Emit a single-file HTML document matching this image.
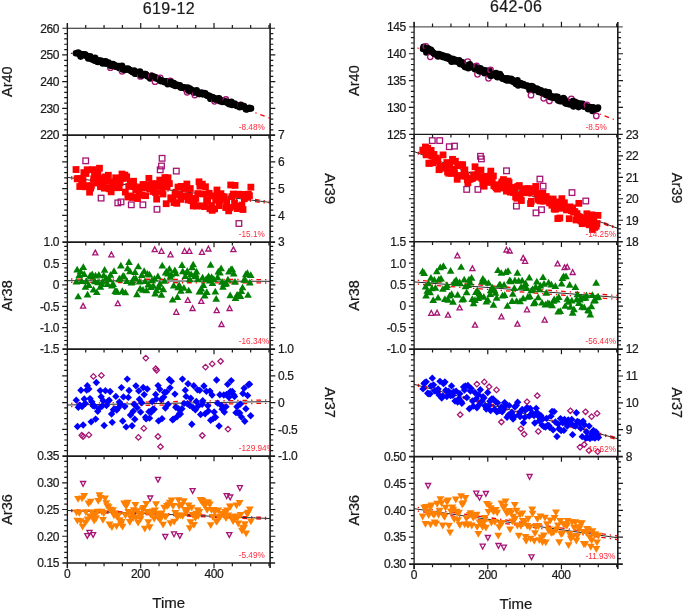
<!DOCTYPE html>
<html><head><meta charset="utf-8"><title>chart</title>
<style>html,body{margin:0;padding:0;background:#fff;}svg{display:block;will-change:transform;}text{stroke:#1a1a1a;stroke-width:0.22px}.p{stroke:none}.o{fill:none;stroke:#a61474;stroke-width:1.3}</style></head>
<body>
<svg width="685" height="611" viewBox="0 0 685 611" font-family="Liberation Sans, sans-serif">
<rect width="685" height="611" fill="#fff"/>
<clipPath id="clip0"><rect x="67.4" y="28.2" width="202.7" height="534.8"/></clipPath>
<text x="168.95" y="13.9" font-size="16" letter-spacing="0.45" text-anchor="middle" fill="#1a1a1a">619-12</text>
<path d="M70.9 53.2Q170.5 81 270.1 118.2" stroke="#ff0000" stroke-width="1.3" stroke-dasharray="1.3 3.95 4.65 3.95" fill="none"/>
<g fill="#000"><circle cx="75.89" cy="53.32" r="3.3"/><circle cx="77.42" cy="53.2" r="3.3"/><circle cx="78.18" cy="52.54" r="3.3"/><circle cx="79.4" cy="54.21" r="3.3"/><circle cx="80.61" cy="56.61" r="3.3"/><circle cx="81.3" cy="54.01" r="3.3"/><circle cx="82.28" cy="54.98" r="3.3"/><circle cx="82.98" cy="55.13" r="3.3"/><circle cx="84.14" cy="54.33" r="3.3"/><circle cx="85.33" cy="54.64" r="3.3"/><circle cx="86.47" cy="55.92" r="3.3"/><circle cx="87.58" cy="56.61" r="3.3"/><circle cx="88.28" cy="58.5" r="3.3"/><circle cx="89.07" cy="57.59" r="3.3"/><circle cx="90.24" cy="56.25" r="3.3"/><circle cx="91.71" cy="59.17" r="3.3"/><circle cx="92.22" cy="58.73" r="3.3"/><circle cx="93.41" cy="59.71" r="3.3"/><circle cx="94.77" cy="60.69" r="3.3"/><circle cx="95.12" cy="57.73" r="3.3"/><circle cx="96.56" cy="61.19" r="3.3"/><circle cx="97.83" cy="62.05" r="3.3"/><circle cx="98.32" cy="60.26" r="3.3"/><circle cx="99.56" cy="61.55" r="3.3"/><circle cx="100.84" cy="60.48" r="3.3"/><circle cx="101.29" cy="61.44" r="3.3"/><circle cx="102.59" cy="63.51" r="3.3"/><circle cx="103.77" cy="63.01" r="3.3"/><circle cx="104.72" cy="61.55" r="3.3"/><circle cx="105.59" cy="61.3" r="3.3"/><circle cx="106.41" cy="63.66" r="3.3"/><circle cx="107.64" cy="63.7" r="3.3"/><circle cx="108.56" cy="62.62" r="3.3"/><circle cx="109.66" cy="64.55" r="3.3"/><circle class="o" cx="110.4" cy="67.7" r="2.75"/><circle cx="110.59" cy="65.78" r="3.3"/><circle cx="111.95" cy="65.67" r="3.3"/><circle cx="112.91" cy="63.94" r="3.3"/><circle cx="113.59" cy="65.47" r="3.3"/><circle cx="114.8" cy="65.1" r="3.3"/><circle cx="115.59" cy="66.63" r="3.3"/><circle cx="116.74" cy="66.42" r="3.3"/><circle cx="117.68" cy="67.32" r="3.3"/><circle cx="118.92" cy="66.11" r="3.3"/><circle cx="119.72" cy="68.31" r="3.3"/><circle cx="120.8" cy="67.09" r="3.3"/><circle cx="122.01" cy="65.82" r="3.3"/><circle class="o" cx="122.1" cy="71.3" r="2.75"/><circle cx="122.8" cy="69.43" r="3.3"/><circle cx="124.17" cy="68.77" r="3.3"/><circle cx="124.65" cy="69.88" r="3.3"/><circle cx="126.08" cy="68.84" r="3.3"/><circle cx="126.86" cy="69.35" r="3.3"/><circle cx="127.88" cy="68.61" r="3.3"/><circle cx="129.04" cy="69.66" r="3.3"/><circle cx="129.98" cy="70.1" r="3.3"/><circle cx="130.91" cy="71.03" r="3.3"/><circle cx="131.62" cy="71.03" r="3.3"/><circle cx="132.7" cy="72.3" r="3.3"/><circle cx="134.17" cy="70.46" r="3.3"/><circle cx="135.05" cy="73.76" r="3.3"/><circle cx="136.19" cy="73.41" r="3.3"/><circle cx="137.39" cy="72.11" r="3.3"/><circle cx="138.21" cy="73.85" r="3.3"/><circle cx="138.76" cy="72.55" r="3.3"/><circle cx="139.96" cy="71.47" r="3.3"/><circle class="o" cx="140.5" cy="76.4" r="2.75"/><circle cx="141.19" cy="75.4" r="3.3"/><circle cx="141.94" cy="73.9" r="3.3"/><circle cx="143.49" cy="75.1" r="3.3"/><circle cx="144.49" cy="74.14" r="3.3"/><circle cx="145.43" cy="73.97" r="3.3"/><circle cx="146.17" cy="74.72" r="3.3"/><circle cx="147.46" cy="76.28" r="3.3"/><circle cx="147.95" cy="75.99" r="3.3"/><circle cx="149.09" cy="77.09" r="3.3"/><circle cx="150.22" cy="78.54" r="3.3"/><circle cx="151.44" cy="75.92" r="3.3"/><circle class="o" cx="151.5" cy="76" r="2.75"/><circle cx="152.27" cy="76.07" r="3.3"/><circle cx="153.02" cy="77.64" r="3.3"/><circle cx="154.19" cy="77.97" r="3.3"/><circle class="o" cx="155" cy="81.7" r="2.75"/><circle cx="155.19" cy="77" r="3.3"/><circle cx="156.19" cy="78.21" r="3.3"/><circle cx="157.1" cy="78.38" r="3.3"/><circle cx="158.3" cy="78.98" r="3.3"/><circle cx="159.34" cy="79.57" r="3.3"/><circle class="o" cx="160.2" cy="77.8" r="2.75"/><circle cx="160.59" cy="81.12" r="3.3"/><circle cx="161.62" cy="80.48" r="3.3"/><circle cx="162.44" cy="80.74" r="3.3"/><circle cx="163.41" cy="81.49" r="3.3"/><circle cx="164.65" cy="82.3" r="3.3"/><circle cx="165.75" cy="81.33" r="3.3"/><circle cx="166.61" cy="81.21" r="3.3"/><circle cx="167.71" cy="84.17" r="3.3"/><circle cx="168.83" cy="82.07" r="3.3"/><circle cx="169.18" cy="83.79" r="3.3"/><circle class="o" cx="170.3" cy="80.8" r="2.75"/><circle cx="170.81" cy="81.84" r="3.3"/><circle cx="171.39" cy="82.71" r="3.3"/><circle cx="172.55" cy="84.86" r="3.3"/><circle cx="173.8" cy="83.1" r="3.3"/><circle cx="174.75" cy="84.69" r="3.3"/><circle cx="175.35" cy="85.92" r="3.3"/><circle cx="176.74" cy="84.99" r="3.3"/><circle cx="177.32" cy="84.84" r="3.3"/><circle cx="178.55" cy="86.09" r="3.3"/><circle cx="179.89" cy="85.18" r="3.3"/><circle cx="180.63" cy="87.43" r="3.3"/><circle cx="181.77" cy="87.67" r="3.3"/><circle cx="182.88" cy="87.31" r="3.3"/><circle cx="183.96" cy="87.6" r="3.3"/><circle cx="184.93" cy="87.49" r="3.3"/><circle cx="185.39" cy="88.78" r="3.3"/><circle cx="186.71" cy="89.02" r="3.3"/><circle class="o" cx="187.1" cy="92.3" r="2.75"/><circle cx="187.75" cy="87.47" r="3.3"/><circle cx="188.47" cy="90.76" r="3.3"/><circle cx="189.84" cy="88.61" r="3.3"/><circle cx="190.9" cy="90.22" r="3.3"/><circle cx="192.08" cy="89.93" r="3.3"/><circle cx="193.18" cy="91.91" r="3.3"/><circle cx="193.59" cy="92.28" r="3.3"/><circle cx="194.68" cy="92.46" r="3.3"/><circle class="o" cx="194.8" cy="95.1" r="2.75"/><circle cx="196.01" cy="91.09" r="3.3"/><circle cx="196.64" cy="90.39" r="3.3"/><circle cx="197.72" cy="92.49" r="3.3"/><circle cx="198.99" cy="94.06" r="3.3"/><circle cx="199.71" cy="94.03" r="3.3"/><circle cx="201.17" cy="92.48" r="3.3"/><circle cx="202.24" cy="92.93" r="3.3"/><circle cx="202.65" cy="94.34" r="3.3"/><circle cx="204.03" cy="93" r="3.3"/><circle cx="205.24" cy="93.38" r="3.3"/><circle cx="206.39" cy="94.99" r="3.3"/><circle cx="206.89" cy="95.57" r="3.3"/><circle cx="207.83" cy="95.67" r="3.3"/><circle cx="209.36" cy="95.88" r="3.3"/><circle cx="210.4" cy="98.71" r="3.3"/><circle cx="210.89" cy="98.78" r="3.3"/><circle cx="212.08" cy="97" r="3.3"/><circle cx="213.3" cy="97.66" r="3.3"/><circle cx="214.41" cy="98.37" r="3.3"/><circle class="o" cx="214.5" cy="101.3" r="2.75"/><circle cx="214.93" cy="99.41" r="3.3"/><circle cx="216.3" cy="99.45" r="3.3"/><circle cx="217.42" cy="99.16" r="3.3"/><circle cx="218.25" cy="98.58" r="3.3"/><circle cx="218.98" cy="98.25" r="3.3"/><circle cx="219.9" cy="101.3" r="3.3"/><circle cx="221.1" cy="100.46" r="3.3"/><circle cx="222.5" cy="101.9" r="3.3"/><circle cx="222.95" cy="100.44" r="3.3"/><circle cx="223.94" cy="100.96" r="3.3"/><circle cx="225.21" cy="101.91" r="3.3"/><circle class="o" cx="225.9" cy="99.5" r="2.75"/><circle cx="226.01" cy="101.9" r="3.3"/><circle cx="227.09" cy="101.76" r="3.3"/><circle cx="228.01" cy="103.32" r="3.3"/><circle cx="229.39" cy="104.29" r="3.3"/><circle cx="230.53" cy="103.35" r="3.3"/><circle cx="231.35" cy="101.75" r="3.3"/><circle cx="232.15" cy="104.97" r="3.3"/><circle cx="233.3" cy="104.75" r="3.3"/><circle cx="234.51" cy="103.62" r="3.3"/><circle cx="235.78" cy="104.83" r="3.3"/><circle cx="236.83" cy="106.04" r="3.3"/><circle cx="237.3" cy="105.01" r="3.3"/><circle cx="238.14" cy="106.07" r="3.3"/><circle cx="239.76" cy="107.15" r="3.3"/><circle class="o" cx="240.8" cy="104.9" r="2.75"/><circle cx="240.84" cy="105.02" r="3.3"/><circle cx="241.51" cy="106.44" r="3.3"/><circle cx="242.76" cy="106.6" r="3.3"/><circle cx="243.84" cy="106.01" r="3.3"/><circle cx="244.67" cy="107.24" r="3.3"/><circle cx="245.87" cy="108.9" r="3.3"/><circle cx="246.27" cy="109.52" r="3.3"/><circle cx="247.46" cy="109.11" r="3.3"/><circle cx="248.48" cy="108.72" r="3.3"/><circle cx="249.38" cy="107.69" r="3.3"/><circle cx="250.97" cy="108.38" r="3.3"/></g>
<text x="238.8" y="130.36" font-size="8.2" class="p" fill="#ff2a3a" clip-path="url(#clip0)">-8.48%</text>
<path d="M71.1 176.76L269.6 201.3" stroke="#ff0000" stroke-width="1.3" stroke-dasharray="1.3 3.95 4.65 3.95" fill="none"/>
<path d="M71.1 178.96L269.6 203.5" stroke="#ff0000" stroke-width="1.3" stroke-dasharray="1.3 3.95 4.65 3.95" fill="none"/>
<path d="M67.4 177.4L270.1 202.4" stroke="#2a2a2a" stroke-width="1" fill="none"/>
<g fill="#f00"><rect x="72.62" y="166.15" width="6.8" height="6.8"/><rect x="73.78" y="175.39" width="6.8" height="6.8"/><rect x="74.77" y="175.27" width="6.8" height="6.8"/><rect x="76.35" y="183.14" width="6.8" height="6.8"/><rect x="77.33" y="175.14" width="6.8" height="6.8"/><rect x="78.22" y="179.27" width="6.8" height="6.8"/><rect x="79.53" y="176.88" width="6.8" height="6.8"/><rect x="80.49" y="169.2" width="6.8" height="6.8"/><rect x="81.6" y="183.4" width="6.8" height="6.8"/><rect class="o" x="82.9" y="158" width="5.6" height="5.6"/><rect x="82.58" y="170.11" width="6.8" height="6.8"/><rect x="83.76" y="166.37" width="6.8" height="6.8"/><rect x="85.22" y="182.29" width="6.8" height="6.8"/><rect x="86.17" y="188.8" width="6.8" height="6.8"/><rect x="87.3" y="184.71" width="6.8" height="6.8"/><rect x="87.88" y="182.38" width="6.8" height="6.8"/><rect x="89.26" y="166.24" width="6.8" height="6.8"/><rect x="90.26" y="175.42" width="6.8" height="6.8"/><rect x="91.15" y="170.9" width="6.8" height="6.8"/><rect x="92.47" y="179.67" width="6.8" height="6.8"/><rect x="93.33" y="175.89" width="6.8" height="6.8"/><rect x="94.55" y="169.7" width="6.8" height="6.8"/><rect x="96.06" y="164.84" width="6.8" height="6.8"/><rect x="97.07" y="183.33" width="6.8" height="6.8"/><rect class="o" x="98.3" y="195.3" width="5.6" height="5.6"/><rect x="98.18" y="174.67" width="6.8" height="6.8"/><rect x="98.82" y="179" width="6.8" height="6.8"/><rect x="99.98" y="180.66" width="6.8" height="6.8"/><rect x="100.98" y="184.76" width="6.8" height="6.8"/><rect x="102.13" y="173.46" width="6.8" height="6.8"/><rect x="103.23" y="177.95" width="6.8" height="6.8"/><rect x="104.96" y="171.86" width="6.8" height="6.8"/><rect x="106.01" y="185.41" width="6.8" height="6.8"/><rect x="106.6" y="184.45" width="6.8" height="6.8"/><rect x="107.73" y="188.45" width="6.8" height="6.8"/><rect x="109.35" y="178.46" width="6.8" height="6.8"/><rect x="110.16" y="178.74" width="6.8" height="6.8"/><rect x="111.11" y="182.98" width="6.8" height="6.8"/><rect x="112.28" y="174.4" width="6.8" height="6.8"/><rect x="113.23" y="184.33" width="6.8" height="6.8"/><rect class="o" x="115" y="200.1" width="5.6" height="5.6"/><rect x="114.56" y="184.16" width="6.8" height="6.8"/><rect x="115.76" y="184.21" width="6.8" height="6.8"/><rect x="116.7" y="179.34" width="6.8" height="6.8"/><rect class="o" x="118.2" y="199.1" width="5.6" height="5.6"/><rect x="118.02" y="174.8" width="6.8" height="6.8"/><rect x="118.6" y="170.64" width="6.8" height="6.8"/><rect x="120.06" y="174.97" width="6.8" height="6.8"/><rect x="121.44" y="171.69" width="6.8" height="6.8"/><rect x="121.92" y="188.67" width="6.8" height="6.8"/><rect x="123.27" y="173.35" width="6.8" height="6.8"/><rect x="124.47" y="193.55" width="6.8" height="6.8"/><rect x="125.35" y="183.01" width="6.8" height="6.8"/><rect x="126.91" y="179.23" width="6.8" height="6.8"/><rect x="127.65" y="192.53" width="6.8" height="6.8"/><rect class="o" x="128.5" y="202" width="5.6" height="5.6"/><rect x="128.75" y="194.06" width="6.8" height="6.8"/><rect x="130.15" y="177.83" width="6.8" height="6.8"/><rect x="130.6" y="183.16" width="6.8" height="6.8"/><rect x="132.32" y="186.24" width="6.8" height="6.8"/><rect x="132.88" y="193.78" width="6.8" height="6.8"/><rect x="134.16" y="195.14" width="6.8" height="6.8"/><rect x="135.34" y="188.8" width="6.8" height="6.8"/><rect x="136.43" y="191.65" width="6.8" height="6.8"/><rect x="137.2" y="183.59" width="6.8" height="6.8"/><rect x="138.5" y="191.64" width="6.8" height="6.8"/><rect class="o" x="140.1" y="202" width="5.6" height="5.6"/><rect x="139.63" y="181.06" width="6.8" height="6.8"/><rect x="141.17" y="184.41" width="6.8" height="6.8"/><rect x="142.23" y="192.28" width="6.8" height="6.8"/><rect x="143.09" y="181.55" width="6.8" height="6.8"/><rect x="144.44" y="182.62" width="6.8" height="6.8"/><rect x="145.49" y="174.97" width="6.8" height="6.8"/><rect x="146.23" y="185.32" width="6.8" height="6.8"/><rect x="147.13" y="184.01" width="6.8" height="6.8"/><rect x="148.59" y="180.22" width="6.8" height="6.8"/><rect x="149.48" y="188.05" width="6.8" height="6.8"/><rect x="150.35" y="186.45" width="6.8" height="6.8"/><rect x="152.16" y="189.15" width="6.8" height="6.8"/><rect x="153.25" y="195.72" width="6.8" height="6.8"/><rect class="o" x="154.2" y="206.5" width="5.6" height="5.6"/><rect x="154.03" y="180.3" width="6.8" height="6.8"/><rect x="155.18" y="181.45" width="6.8" height="6.8"/><rect x="156.32" y="176.68" width="6.8" height="6.8"/><rect class="o" x="157.4" y="167" width="5.6" height="5.6"/><rect x="157.6" y="181.9" width="6.8" height="6.8"/><rect class="o" x="158.7" y="163.2" width="5.6" height="5.6"/><rect x="158.37" y="188.11" width="6.8" height="6.8"/><rect class="o" x="159.3" y="155.5" width="5.6" height="5.6"/><rect x="159.55" y="190.62" width="6.8" height="6.8"/><rect x="160.38" y="178.79" width="6.8" height="6.8"/><rect x="161.49" y="174.15" width="6.8" height="6.8"/><rect x="162.79" y="200.3" width="6.8" height="6.8"/><rect x="163.68" y="183.5" width="6.8" height="6.8"/><rect x="164.63" y="174.39" width="6.8" height="6.8"/><rect x="165.97" y="180.21" width="6.8" height="6.8"/><rect x="167.35" y="194.39" width="6.8" height="6.8"/><rect x="168.1" y="195.59" width="6.8" height="6.8"/><rect x="169.63" y="195.44" width="6.8" height="6.8"/><rect x="170.61" y="199.16" width="6.8" height="6.8"/><rect x="171.67" y="190.69" width="6.8" height="6.8"/><rect class="o" x="173.5" y="168.3" width="5.6" height="5.6"/><rect x="172.94" y="190.6" width="6.8" height="6.8"/><rect x="173.44" y="199.93" width="6.8" height="6.8"/><rect x="174.61" y="183.65" width="6.8" height="6.8"/><rect x="176.25" y="191.41" width="6.8" height="6.8"/><rect x="177.34" y="195.97" width="6.8" height="6.8"/><rect x="177.83" y="182.98" width="6.8" height="6.8"/><rect x="179.44" y="183.75" width="6.8" height="6.8"/><rect x="179.98" y="192.98" width="6.8" height="6.8"/><rect x="181.17" y="185.05" width="6.8" height="6.8"/><rect x="182.24" y="192.52" width="6.8" height="6.8"/><rect x="183.48" y="180.61" width="6.8" height="6.8"/><rect x="184.64" y="196.55" width="6.8" height="6.8"/><rect x="186.12" y="192.55" width="6.8" height="6.8"/><rect x="186.87" y="185.15" width="6.8" height="6.8"/><rect x="187.74" y="196.98" width="6.8" height="6.8"/><rect x="188.95" y="197.25" width="6.8" height="6.8"/><rect x="189.85" y="202.53" width="6.8" height="6.8"/><rect x="190.96" y="198.25" width="6.8" height="6.8"/><rect x="192.36" y="195.03" width="6.8" height="6.8"/><rect x="193.51" y="202.55" width="6.8" height="6.8"/><rect x="194.42" y="190.19" width="6.8" height="6.8"/><rect x="195.61" y="178.4" width="6.8" height="6.8"/><rect x="196.5" y="182.72" width="6.8" height="6.8"/><rect x="198.01" y="202.47" width="6.8" height="6.8"/><rect x="198.91" y="180.75" width="6.8" height="6.8"/><rect x="199.84" y="190.56" width="6.8" height="6.8"/><rect x="201.18" y="203.14" width="6.8" height="6.8"/><rect x="202.07" y="183.33" width="6.8" height="6.8"/><rect x="203.23" y="197.11" width="6.8" height="6.8"/><rect x="204.2" y="196.28" width="6.8" height="6.8"/><rect x="205.78" y="189.91" width="6.8" height="6.8"/><rect x="206.51" y="205.4" width="6.8" height="6.8"/><rect x="208.1" y="202.17" width="6.8" height="6.8"/><rect x="208.8" y="206.94" width="6.8" height="6.8"/><rect x="209.71" y="192.57" width="6.8" height="6.8"/><rect x="211.21" y="205.49" width="6.8" height="6.8"/><rect x="212.33" y="196.72" width="6.8" height="6.8"/><rect x="213.54" y="186.58" width="6.8" height="6.8"/><rect x="214.08" y="192.94" width="6.8" height="6.8"/><rect x="215.66" y="202.28" width="6.8" height="6.8"/><rect x="216.81" y="197" width="6.8" height="6.8"/><rect x="217.5" y="190.29" width="6.8" height="6.8"/><rect x="218.71" y="193.07" width="6.8" height="6.8"/><rect x="219.93" y="194.81" width="6.8" height="6.8"/><rect x="220.75" y="193.45" width="6.8" height="6.8"/><rect x="222.31" y="204.13" width="6.8" height="6.8"/><rect x="223.28" y="198.46" width="6.8" height="6.8"/><rect x="224.49" y="204.24" width="6.8" height="6.8"/><rect x="225.29" y="207.44" width="6.8" height="6.8"/><rect x="226.44" y="204.29" width="6.8" height="6.8"/><rect x="227.3" y="181.58" width="6.8" height="6.8"/><rect x="228.48" y="193.25" width="6.8" height="6.8"/><rect x="229.88" y="190.64" width="6.8" height="6.8"/><rect x="231.15" y="199.8" width="6.8" height="6.8"/><rect x="231.66" y="182.01" width="6.8" height="6.8"/><rect x="232.68" y="202.93" width="6.8" height="6.8"/><rect x="233.79" y="205.17" width="6.8" height="6.8"/><rect x="235.16" y="190.78" width="6.8" height="6.8"/><rect class="o" x="236.1" y="220.7" width="5.6" height="5.6"/><rect x="236.51" y="203.95" width="6.8" height="6.8"/><rect x="237.2" y="191.46" width="6.8" height="6.8"/><rect x="238.48" y="201.71" width="6.8" height="6.8"/><rect x="239.6" y="206.12" width="6.8" height="6.8"/><rect x="240.94" y="195.33" width="6.8" height="6.8"/><rect x="241.54" y="191.05" width="6.8" height="6.8"/><rect x="242.53" y="191.65" width="6.8" height="6.8"/><rect x="243.99" y="193.82" width="6.8" height="6.8"/><rect x="244.97" y="190.8" width="6.8" height="6.8"/><rect x="246.02" y="192.27" width="6.8" height="6.8"/><rect x="247.47" y="183.76" width="6.8" height="6.8"/></g>
<text x="238.8" y="237.32" font-size="8.2" class="p" fill="#ff2a3a" clip-path="url(#clip0)">-15.1%</text>
<path d="M71.1 279.01L269.6 279.6" stroke="#ff0000" stroke-width="1.3" stroke-dasharray="1.3 3.95 4.65 3.95" fill="none"/>
<path d="M71.1 282.41L269.6 283" stroke="#ff0000" stroke-width="1.3" stroke-dasharray="1.3 3.95 4.65 3.95" fill="none"/>
<path d="M67.4 280.7L270.1 281.3" stroke="#2a2a2a" stroke-width="1" fill="none"/>
<g fill="#008000"><path d="M76.39 277.84L80.24 284.54L72.54 284.54Z"/><path d="M77.15 265.82L81 272.52L73.3 272.52Z"/><path d="M78.16 292.64L82.01 299.34L74.31 299.34Z"/><path d="M79.3 271.37L83.15 278.07L75.45 278.07Z"/><path d="M80.54 267.49L84.39 274.19L76.69 274.19Z"/><path d="M81.74 277.25L85.59 283.95L77.89 283.95Z"/><path class="o" d="M83.1 303.4L85.65 308.2L80.55 308.2Z"/><path d="M83.31 263.21L87.16 269.91L79.46 269.91Z"/><path d="M84.2 270.25L88.05 276.95L80.35 276.95Z"/><path d="M85.41 283.13L89.26 289.83L81.56 289.83Z"/><path d="M86.39 277.6L90.24 284.3L82.54 284.3Z"/><path d="M87.53 290.68L91.38 297.38L83.68 297.38Z"/><path d="M88.86 281.22L92.71 287.92L85.01 287.92Z"/><path d="M90.15 271.8L94 278.5L86.3 278.5Z"/><path d="M90.89 272.78L94.74 279.48L87.04 279.48Z"/><path d="M92.22 270.43L96.07 277.13L88.37 277.13Z"/><path d="M93.52 285.77L97.37 292.47L89.67 292.47Z"/><path d="M94.9 277.47L98.75 284.17L91.05 284.17Z"/><path class="o" d="M95.3 250.1L97.85 254.9L92.75 254.9Z"/><path d="M95.54 271.72L99.39 278.42L91.69 278.42Z"/><path d="M96.78 288.42L100.63 295.12L92.93 295.12Z"/><path d="M98.06 278.47L101.91 285.17L94.21 285.17Z"/><path d="M98.89 271L102.74 277.7L95.04 277.7Z"/><path d="M100.38 283.02L104.23 289.72L96.53 289.72Z"/><path d="M101.8 280.38L105.65 287.08L97.95 287.08Z"/><path d="M102.43 277.89L106.28 284.59L98.58 284.59Z"/><path d="M103.73 271.43L107.58 278.13L99.88 278.13Z"/><path d="M104.61 266.12L108.46 272.82L100.76 272.82Z"/><path d="M106.05 274.2L109.9 280.9L102.2 280.9Z"/><path d="M107.54 280.3L111.39 287L103.69 287Z"/><path d="M108.37 275.52L112.22 282.22L104.52 282.22Z"/><path d="M109.28 275.3L113.13 282L105.43 282Z"/><path d="M110.49 271L114.34 277.7L106.64 277.7Z"/><path class="o" d="M111.4 252L113.95 256.8L108.85 256.8Z"/><path d="M111.87 281.74L115.72 288.44L108.02 288.44Z"/><path d="M113.19 280.34L117.04 287.04L109.34 287.04Z"/><path d="M114.04 267.23L117.89 273.93L110.19 273.93Z"/><path d="M115.22 287.35L119.07 294.05L111.37 294.05Z"/><path d="M116.6 287.77L120.45 294.47L112.75 294.47Z"/><path d="M117.23 288.07L121.08 294.77L113.38 294.77Z"/><path class="o" d="M117.8 300.8L120.35 305.6L115.25 305.6Z"/><path d="M119 275.52L122.85 282.22L115.15 282.22Z"/><path d="M119.79 274.67L123.64 281.37L115.94 281.37Z"/><path d="M120.84 261.84L124.69 268.54L116.99 268.54Z"/><path d="M122.32 287.3L126.17 294L118.47 294Z"/><path d="M123.08 272.07L126.93 278.77L119.23 278.77Z"/><path d="M124.15 272.75L128 279.45L120.3 279.45Z"/><path d="M125.38 288.66L129.23 295.36L121.53 295.36Z"/><path d="M126.83 277.27L130.68 283.97L122.98 283.97Z"/><path d="M127.56 264.45L131.41 271.15L123.71 271.15Z"/><path d="M128.96 258.31L132.81 265.01L125.11 265.01Z"/><path d="M129.95 267.59L133.8 274.29L126.1 274.29Z"/><path d="M131.33 278.71L135.18 285.41L127.48 285.41Z"/><path d="M132.18 278.02L136.03 284.72L128.33 284.72Z"/><path d="M133.79 274.67L137.64 281.37L129.94 281.37Z"/><path d="M135.05 268.2L138.9 274.9L131.2 274.9Z"/><path d="M135.75 274.51L139.6 281.21L131.9 281.21Z"/><path d="M136.93 290.58L140.78 297.28L133.08 297.28Z"/><path d="M138.25 262.67L142.1 269.37L134.4 269.37Z"/><path d="M139.5 277.76L143.35 284.46L135.65 284.46Z"/><path d="M140.15 284.69L144 291.39L136.3 291.39Z"/><path d="M141.75 271.26L145.6 277.96L137.9 277.96Z"/><path d="M143 286.11L146.85 292.81L139.15 292.81Z"/><path d="M144.14 267.33L147.99 274.03L140.29 274.03Z"/><path d="M145.02 277.42L148.87 284.12L141.17 284.12Z"/><path d="M146.45 286.64L150.3 293.34L142.6 293.34Z"/><path d="M147.4 270.08L151.25 276.78L143.55 276.78Z"/><path d="M148.28 280.78L152.13 287.48L144.43 287.48Z"/><path d="M149.5 270.79L153.35 277.49L145.65 277.49Z"/><path d="M150.88 283.36L154.73 290.06L147.03 290.06Z"/><path d="M151.99 276.56L155.84 283.26L148.14 283.26Z"/><path d="M153.33 281.96L157.18 288.66L149.48 288.66Z"/><path d="M154.41 274.91L158.26 281.61L150.56 281.61Z"/><path class="o" d="M154.7 246.9L157.25 251.7L152.15 251.7Z"/><path d="M155.19 289.7L159.04 296.4L151.34 296.4Z"/><path d="M156.47 286.46L160.32 293.16L152.62 293.16Z"/><path d="M157.9 272.48L161.75 279.18L154.05 279.18Z"/><path d="M158.81 283.36L162.66 290.06L154.96 290.06Z"/><path d="M159.79 280.06L163.64 286.76L155.94 286.76Z"/><path d="M161.46 290.98L165.31 297.68L157.61 297.68Z"/><path class="o" d="M161.5 248.5L164.05 253.3L158.95 253.3Z"/><path d="M162.25 261.87L166.1 268.57L158.4 268.57Z"/><path d="M163.29 285.46L167.14 292.16L159.44 292.16Z"/><path d="M164.59 277.13L168.44 283.83L160.74 283.83Z"/><path d="M165.58 268.88L169.43 275.58L161.73 275.58Z"/><path d="M166.71 267.75L170.56 274.45L162.86 274.45Z"/><path d="M168.14 269.79L171.99 276.49L164.29 276.49Z"/><path d="M169.39 265.06L173.24 271.76L165.54 271.76Z"/><path d="M170.26 273.13L174.11 279.83L166.41 279.83Z"/><path class="o" d="M170.5 252L173.05 256.8L167.95 256.8Z"/><path d="M171.22 270.83L175.07 277.53L167.37 277.53Z"/><path d="M172.6 295.9L176.45 302.6L168.75 302.6Z"/><path d="M173.69 281.71L177.54 288.41L169.84 288.41Z"/><path d="M174.87 266.53L178.72 273.23L171.02 273.23Z"/><path d="M175.87 269.66L179.72 276.36L172.02 276.36Z"/><path class="o" d="M176.3 309.5L178.85 314.3L173.75 314.3Z"/><path d="M177.41 293.37L181.26 300.07L173.56 300.07Z"/><path d="M178.14 283.45L181.99 290.15L174.29 290.15Z"/><path d="M179.17 281.36L183.02 288.06L175.32 288.06Z"/><path d="M180.8 287.02L184.65 293.72L176.95 293.72Z"/><path d="M181.98 261.25L185.83 267.95L178.13 267.95Z"/><path d="M182.76 267.52L186.61 274.22L178.91 274.22Z"/><path d="M183.86 284.03L187.71 290.73L180.01 290.73Z"/><path class="o" d="M184.6 248.5L187.15 253.3L182.05 253.3Z"/><path d="M185.3 272.41L189.15 279.11L181.45 279.11Z"/><path d="M186.7 268.52L190.55 275.22L182.85 275.22Z"/><path d="M187.36 267.32L191.21 274.02L183.51 274.02Z"/><path class="o" d="M187.8 297.6L190.35 302.4L185.25 302.4Z"/><path d="M188.72 286.65L192.57 293.35L184.87 293.35Z"/><path class="o" d="M189.4 248.5L191.95 253.3L186.85 253.3Z"/><path d="M189.66 275.57L193.51 282.27L185.81 282.27Z"/><path d="M191.16 270.41L195.01 277.11L187.31 277.11Z"/><path d="M192.11 263.56L195.96 270.26L188.26 270.26Z"/><path class="o" d="M192.6 305.7L195.15 310.5L190.05 310.5Z"/><path d="M193.19 260.66L197.04 267.36L189.34 267.36Z"/><path d="M194.54 272.59L198.39 279.29L190.69 279.29Z"/><path d="M195.6 270.25L199.45 276.95L191.75 276.95Z"/><path d="M196.5 267.81L200.35 274.51L192.65 274.51Z"/><path d="M197.81 275.67L201.66 282.37L193.96 282.37Z"/><path d="M199.35 287.9L203.2 294.6L195.5 294.6Z"/><path d="M200.39 287.51L204.24 294.21L196.54 294.21Z"/><path class="o" d="M201.3 298.6L203.85 303.4L198.75 303.4Z"/><path d="M201.32 284.73L205.17 291.43L197.47 291.43Z"/><path class="o" d="M202 249.5L204.55 254.3L199.45 254.3Z"/><path d="M202.58 273.79L206.43 280.49L198.73 280.49Z"/><path d="M203.35 281.27L207.2 287.97L199.5 287.97Z"/><path d="M204.69 291.73L208.54 298.43L200.84 298.43Z"/><path d="M206.2 275.27L210.05 281.97L202.35 281.97Z"/><path d="M206.83 288.19L210.68 294.89L202.98 294.89Z"/><path class="o" d="M208.4 246.2L210.95 251L205.85 251Z"/><path d="M208.56 272.39L212.41 279.09L204.71 279.09Z"/><path d="M209.61 276.79L213.46 283.49L205.76 283.49Z"/><path d="M210.63 261.11L214.48 267.81L206.78 267.81Z"/><path d="M211.55 273.33L215.4 280.03L207.7 280.03Z"/><path d="M212.49 279.4L216.34 286.1L208.64 286.1Z"/><path d="M213.79 275.29L217.64 281.99L209.94 281.99Z"/><path d="M215.27 287.78L219.12 294.48L211.42 294.48Z"/><path d="M216.18 295.12L220.03 301.82L212.33 301.82Z"/><path class="o" d="M216.7 307.9L219.25 312.7L214.15 312.7Z"/><path d="M217.61 273.49L221.46 280.19L213.76 280.19Z"/><path d="M218.32 267.82L222.17 274.52L214.47 274.52Z"/><path d="M219.92 268.87L223.77 275.57L216.07 275.57Z"/><path d="M221.09 264.55L224.94 271.25L217.24 271.25Z"/><path class="o" d="M221.5 321.7L224.05 326.5L218.95 326.5Z"/><path d="M222.14 278.01L225.99 284.71L218.29 284.71Z"/><path d="M222.91 283.16L226.76 289.86L219.06 289.86Z"/><path d="M224.07 280L227.92 286.7L220.22 286.7Z"/><path d="M225.1 280.14L228.95 286.84L221.25 286.84Z"/><path d="M226.24 279.67L230.09 286.37L222.39 286.37Z"/><path d="M227.89 275.82L231.74 282.52L224.04 282.52Z"/><path d="M228.86 267.7L232.71 274.4L225.01 274.4Z"/><path class="o" d="M229.6 305.7L232.15 310.5L227.05 310.5Z"/><path d="M230.2 291.51L234.05 298.21L226.35 298.21Z"/><path d="M231 265.5L234.85 272.2L227.15 272.2Z"/><path d="M232.19 265.55L236.04 272.25L228.34 272.25Z"/><path class="o" d="M233.4 246.9L235.95 251.7L230.85 251.7Z"/><path d="M233.74 269.79L237.59 276.49L229.89 276.49Z"/><path d="M234.97 278.04L238.82 284.74L231.12 284.74Z"/><path d="M235.46 294.34L239.31 301.04L231.61 301.04Z"/><path d="M237.1 291.1L240.95 297.8L233.25 297.8Z"/><path d="M238.09 291.81L241.94 298.51L234.24 298.51Z"/><path d="M238.83 292.08L242.68 298.78L234.98 298.78Z"/><path d="M240.43 292.33L244.28 299.03L236.58 299.03Z"/><path d="M241.33 287.41L245.18 294.11L237.48 294.11Z"/><path d="M242.53 283.66L246.38 290.36L238.68 290.36Z"/><path d="M244.13 276.04L247.98 282.74L240.28 282.74Z"/><path d="M245.11 275.91L248.96 282.61L241.26 282.61Z"/><path d="M245.76 270.45L249.61 277.15L241.91 277.15Z"/><path d="M247.36 269.31L251.21 276.01L243.51 276.01Z"/><path d="M248.02 291.17L251.87 297.87L244.17 297.87Z"/><path d="M249.81 278.71L253.66 285.41L245.96 285.41Z"/><path d="M250.74 271.26L254.59 277.96L246.89 277.96Z"/></g>
<text x="238.8" y="344.28" font-size="8.2" class="p" fill="#ff2a3a" clip-path="url(#clip0)">-16.34%</text>
<path d="M71.1 403.29L269.6 399.95" stroke="#ff0000" stroke-width="1.3" stroke-dasharray="1.3 3.95 4.65 3.95" fill="none"/>
<path d="M71.1 406.59L269.6 403.25" stroke="#ff0000" stroke-width="1.3" stroke-dasharray="1.3 3.95 4.65 3.95" fill="none"/>
<path d="M67.4 405L270.1 401.6" stroke="#2a2a2a" stroke-width="1" fill="none"/>
<g fill="#0000ff"><path d="M76.26 396.47L79.96 400.17L76.26 403.87L72.56 400.17Z"/><path d="M77.5 422.73L81.2 426.43L77.5 430.13L73.8 426.43Z"/><path d="M78.29 403.63L81.99 407.33L78.29 411.03L74.59 407.33Z"/><path d="M79.83 401.41L83.53 405.11L79.83 408.81L76.13 405.11Z"/><path d="M80.93 386.5L84.63 390.2L80.93 393.9L77.23 390.2Z"/><path class="o" d="M81.8 432.45L84.55 435.2L81.8 437.95L79.05 435.2Z"/><path d="M82.13 402.82L85.83 406.52L82.13 410.22L78.43 406.52Z"/><path class="o" d="M83.1 433.75L85.85 436.5L83.1 439.25L80.35 436.5Z"/><path d="M83.18 421.28L86.88 424.98L83.18 428.68L79.48 424.98Z"/><path d="M84.25 395.33L87.95 399.03L84.25 402.73L80.55 399.03Z"/><path d="M85.3 399.71L89 403.41L85.3 407.11L81.6 403.41Z"/><path d="M86.66 386.38L90.36 390.08L86.66 393.78L82.96 390.08Z"/><path d="M87.33 382.12L91.03 385.82L87.33 389.52L83.63 385.82Z"/><path d="M88.78 385.25L92.48 388.95L88.78 392.65L85.08 388.95Z"/><path class="o" d="M88.9 432.15L91.65 434.9L88.9 437.65L86.15 434.9Z"/><path d="M90.01 394.88L93.71 398.58L90.01 402.28L86.31 398.58Z"/><path d="M91.13 418.15L94.83 421.85L91.13 425.55L87.43 421.85Z"/><path d="M91.79 398.12L95.49 401.82L91.79 405.52L88.09 401.82Z"/><path d="M93.06 402.07L96.76 405.77L93.06 409.47L89.36 405.77Z"/><path class="o" d="M93.4 373.65L96.15 376.4L93.4 379.15L90.65 376.4Z"/><path d="M94.64 402.39L98.34 406.09L94.64 409.79L90.94 406.09Z"/><path d="M95.66 415.38L99.36 419.08L95.66 422.78L91.96 419.08Z"/><path d="M96.34 378.79L100.04 382.49L96.34 386.19L92.64 382.49Z"/><path d="M97.71 407.61L101.41 411.31L97.71 415.01L94.01 411.31Z"/><path d="M99.08 404.69L102.78 408.39L99.08 412.09L95.38 408.39Z"/><path d="M100.25 386.89L103.95 390.59L100.25 394.29L96.55 390.59Z"/><path d="M101.14 393.06L104.84 396.76L101.14 400.46L97.44 396.76Z"/><path class="o" d="M101.4 372.65L104.15 375.4L101.4 378.15L98.65 375.4Z"/><path d="M101.96 402.52L105.66 406.22L101.96 409.92L98.26 406.22Z"/><path d="M103.18 397.05L106.88 400.75L103.18 404.45L99.48 400.75Z"/><path d="M104.17 421.83L107.87 425.53L104.17 429.23L100.47 425.53Z"/><path d="M105.41 386.94L109.11 390.64L105.41 394.34L101.71 390.64Z"/><path d="M106.47 401.88L110.17 405.58L106.47 409.28L102.77 405.58Z"/><path d="M108.07 397.54L111.77 401.24L108.07 404.94L104.37 401.24Z"/><path d="M109.2 396.53L112.9 400.23L109.2 403.93L105.5 400.23Z"/><path d="M110.14 387.83L113.84 391.53L110.14 395.23L106.44 391.53Z"/><path d="M111.6 410.27L115.3 413.97L111.6 417.67L107.9 413.97Z"/><path d="M112.19 418.65L115.89 422.35L112.19 426.05L108.49 422.35Z"/><path d="M113.36 405.97L117.06 409.67L113.36 413.37L109.66 409.67Z"/><path d="M114.8 405.18L118.5 408.88L114.8 412.58L111.1 408.88Z"/><path d="M115.87 392.71L119.57 396.41L115.87 400.11L112.17 396.41Z"/><path d="M116.71 406.4L120.41 410.1L116.71 413.8L113.01 410.1Z"/><path d="M118.41 404.09L122.11 407.79L118.41 411.49L114.71 407.79Z"/><path d="M119.34 398.35L123.04 402.05L119.34 405.75L115.64 402.05Z"/><path d="M120.46 400.05L124.16 403.75L120.46 407.45L116.76 403.75Z"/><path d="M121.42 383.92L125.12 387.62L121.42 391.32L117.72 387.62Z"/><path d="M122.73 417.25L126.43 420.95L122.73 424.65L119.03 420.95Z"/><path d="M123.47 393.2L127.17 396.9L123.47 400.6L119.77 396.9Z"/><path d="M124.77 402.81L128.47 406.51L124.77 410.21L121.07 406.51Z"/><path d="M126.15 423.22L129.85 426.92L126.15 430.62L122.45 426.92Z"/><path d="M127.25 375.42L130.95 379.12L127.25 382.82L123.55 379.12Z"/><path d="M128.33 393.7L132.03 397.4L128.33 401.1L124.63 397.4Z"/><path d="M129.12 386.8L132.82 390.5L129.12 394.2L125.42 390.5Z"/><path d="M130.45 411.25L134.15 414.95L130.45 418.65L126.75 414.95Z"/><path d="M132.07 422.01L135.77 425.71L132.07 429.41L128.37 425.71Z"/><path d="M133.17 407.61L136.87 411.31L133.17 415.01L129.47 411.31Z"/><path d="M134.21 400.49L137.91 404.19L134.21 407.89L130.51 404.19Z"/><path d="M134.79 415.48L138.49 419.18L134.79 422.88L131.09 419.18Z"/><path d="M135.93 382.16L139.63 385.86L135.93 389.56L132.23 385.86Z"/><path d="M137.17 403.93L140.87 407.63L137.17 411.33L133.47 407.63Z"/><path class="o" d="M138.4 434.65L141.15 437.4L138.4 440.15L135.65 437.4Z"/><path d="M138.75 387.19L142.45 390.89L138.75 394.59L135.05 390.89Z"/><path d="M139.43 395.61L143.13 399.31L139.43 403.01L135.73 399.31Z"/><path d="M140.57 408.38L144.27 412.08L140.57 415.78L136.87 412.08Z"/><path d="M141.73 399.06L145.43 402.76L141.73 406.46L138.03 402.76Z"/><path d="M143.21 383.85L146.91 387.55L143.21 391.25L139.51 387.55Z"/><path class="o" d="M143.8 425.65L146.55 428.4L143.8 431.15L141.05 428.4Z"/><path d="M144.19 390.92L147.89 394.62L144.19 398.32L140.49 394.62Z"/><path d="M145.57 413.59L149.27 417.29L145.57 420.99L141.87 417.29Z"/><path class="o" d="M145.8 355.35L148.55 358.1L145.8 360.85L143.05 358.1Z"/><path d="M146.13 415.22L149.83 418.92L146.13 422.62L142.43 418.92Z"/><path d="M147.24 385.31L150.94 389.01L147.24 392.71L143.54 389.01Z"/><path d="M148.96 407.95L152.66 411.65L148.96 415.35L145.26 411.65Z"/><path d="M149.55 414.45L153.25 418.15L149.55 421.85L145.85 418.15Z"/><path d="M151.13 408.58L154.83 412.28L151.13 415.98L147.43 412.28Z"/><path d="M152.18 397.74L155.88 401.44L152.18 405.14L148.48 401.44Z"/><path d="M153.02 405.19L156.72 408.89L153.02 412.59L149.32 408.89Z"/><path d="M154.2 405.65L157.9 409.35L154.2 413.05L150.5 409.35Z"/><path d="M155.68 390.7L159.38 394.4L155.68 398.1L151.98 394.4Z"/><path class="o" d="M155.7 365.95L158.45 368.7L155.7 371.45L152.95 368.7Z"/><path d="M156.29 395.32L159.99 399.02L156.29 402.72L152.59 399.02Z"/><path class="o" d="M156.7 367.55L159.45 370.3L156.7 373.05L153.95 370.3Z"/><path class="o" d="M158 433.75L160.75 436.5L158 439.25L155.25 436.5Z"/><path d="M158.1 381.88L161.8 385.58L158.1 389.28L154.4 385.58Z"/><path d="M158.57 417.19L162.27 420.89L158.57 424.59L154.87 420.89Z"/><path d="M159.79 385.63L163.49 389.33L159.79 393.03L156.09 389.33Z"/><path class="o" d="M160.5 443.95L163.25 446.7L160.5 449.45L157.75 446.7Z"/><path d="M161.27 395.73L164.97 399.43L161.27 403.13L157.57 399.43Z"/><path d="M162.02 414.96L165.72 418.66L162.02 422.36L158.32 418.66Z"/><path d="M163.8 393.39L167.5 397.09L163.8 400.79L160.1 397.09Z"/><path d="M164.52 388.86L168.22 392.56L164.52 396.26L160.82 392.56Z"/><path d="M165.39 404.28L169.09 407.98L165.39 411.68L161.69 407.98Z"/><path d="M166.59 388.14L170.29 391.84L166.59 395.54L162.89 391.84Z"/><path d="M168 400.7L171.7 404.4L168 408.1L164.3 404.4Z"/><path d="M169.37 375.81L173.07 379.51L169.37 383.21L165.67 379.51Z"/><path d="M170.05 384.15L173.75 387.85L170.05 391.55L166.35 387.85Z"/><path d="M171.29 377.51L174.99 381.21L171.29 384.91L167.59 381.21Z"/><path d="M172.55 416.1L176.25 419.8L172.55 423.5L168.85 419.8Z"/><path d="M173.74 415.41L177.44 419.11L173.74 422.81L170.04 419.11Z"/><path d="M174.93 390.41L178.63 394.11L174.93 397.81L171.23 394.11Z"/><path d="M175.77 403.54L179.47 407.24L175.77 410.94L172.07 407.24Z"/><path d="M176.94 413.16L180.64 416.86L176.94 420.56L173.24 416.86Z"/><path d="M178.44 405.09L182.14 408.79L178.44 412.49L174.74 408.79Z"/><path d="M179.59 409.86L183.29 413.56L179.59 417.26L175.89 413.56Z"/><path d="M180.37 410.34L184.07 414.04L180.37 417.74L176.67 414.04Z"/><path d="M181.93 405.06L185.63 408.76L181.93 412.46L178.23 408.76Z"/><path d="M182.46 375.38L186.16 379.08L182.46 382.78L178.76 379.08Z"/><path d="M184.07 399.68L187.77 403.38L184.07 407.08L180.37 403.38Z"/><path d="M185.26 386.43L188.96 390.13L185.26 393.83L181.56 390.13Z"/><path d="M186.14 392.72L189.84 396.42L186.14 400.12L182.44 396.42Z"/><path d="M187.37 400.06L191.07 403.76L187.37 407.46L183.67 403.76Z"/><path d="M188.04 379.99L191.74 383.69L188.04 387.39L184.34 383.69Z"/><path d="M189.74 401.75L193.44 405.45L189.74 409.15L186.04 405.45Z"/><path d="M190.76 394.55L194.46 398.25L190.76 401.95L187.06 398.25Z"/><path d="M191.82 420.61L195.52 424.31L191.82 428.01L188.12 424.31Z"/><path d="M192.95 403.75L196.65 407.45L192.95 411.15L189.25 407.45Z"/><path d="M193.78 382L197.48 385.7L193.78 389.4L190.08 385.7Z"/><path d="M195.41 406.04L199.11 409.74L195.41 413.44L191.71 409.74Z"/><path d="M196.31 397.85L200.01 401.55L196.31 405.25L192.61 401.55Z"/><path d="M197.5 386L201.2 389.7L197.5 393.4L193.8 389.7Z"/><path d="M198.32 402.21L202.02 405.91L198.32 409.61L194.62 405.91Z"/><path d="M199.78 386.66L203.48 390.36L199.78 394.06L196.08 390.36Z"/><path d="M200.63 410.85L204.33 414.55L200.63 418.25L196.93 414.55Z"/><path d="M202.15 400.58L205.85 404.28L202.15 407.98L198.45 404.28Z"/><path class="o" d="M202.3 432.75L205.05 435.5L202.3 438.25L199.55 435.5Z"/><path d="M202.74 397L206.44 400.7L202.74 404.4L199.04 400.7Z"/><path d="M203.95 382.31L207.65 386.01L203.95 389.71L200.25 386.01Z"/><path d="M205.14 410.01L208.84 413.71L205.14 417.41L201.44 413.71Z"/><path class="o" d="M205.5 364.35L208.25 367.1L205.5 369.85L202.75 367.1Z"/><path d="M206.41 387.63L210.11 391.33L206.41 395.03L202.71 391.33Z"/><path d="M207.89 402.15L211.59 405.85L207.89 409.55L204.19 405.85Z"/><path d="M208.39 407.28L212.09 410.98L208.39 414.68L204.69 410.98Z"/><path d="M209.93 387.41L213.63 391.11L209.93 394.81L206.23 391.11Z"/><path d="M210.68 416.56L214.38 420.26L210.68 423.96L206.98 420.26Z"/><path d="M212.06 391.25L215.76 394.95L212.06 398.65L208.36 394.95Z"/><path class="o" d="M212.2 361.15L214.95 363.9L212.2 366.65L209.45 363.9Z"/><path d="M213.14 414.96L216.84 418.66L213.14 422.36L209.44 418.66Z"/><path d="M214.17 408.33L217.87 412.03L214.17 415.73L210.47 412.03Z"/><path d="M215.54 413.61L219.24 417.31L215.54 421.01L211.84 417.31Z"/><path d="M216.57 376.23L220.27 379.93L216.57 383.63L212.87 379.93Z"/><path d="M217.64 399.44L221.34 403.14L217.64 406.84L213.94 403.14Z"/><path d="M219.03 422.26L222.73 425.96L219.03 429.66L215.33 425.96Z"/><path d="M219.9 390.98L223.6 394.68L219.9 398.38L216.2 394.68Z"/><path class="o" d="M220.6 358.55L223.35 361.3L220.6 364.05L217.85 361.3Z"/><path d="M221.56 402.04L225.26 405.74L221.56 409.44L217.86 405.74Z"/><path d="M222.17 405.44L225.87 409.14L222.17 412.84L218.47 409.14Z"/><path d="M223.84 391.28L227.54 394.98L223.84 398.68L220.14 394.98Z"/><path d="M224.37 408.41L228.07 412.11L224.37 415.81L220.67 412.11Z"/><path d="M226.08 402.94L229.78 406.64L226.08 410.34L222.38 406.64Z"/><path d="M226.56 390.75L230.26 394.45L226.56 398.15L222.86 394.45Z"/><path d="M227.65 380.66L231.35 384.36L227.65 388.06L223.95 384.36Z"/><path class="o" d="M228 426.35L230.75 429.1L228 431.85L225.25 429.1Z"/><path d="M228.85 393.51L232.55 397.21L228.85 400.91L225.15 397.21Z"/><path d="M230.43 387.76L234.13 391.46L230.43 395.16L226.73 391.46Z"/><path d="M231.22 376.92L234.92 380.62L231.22 384.32L227.52 380.62Z"/><path d="M232.38 387.8L236.08 391.5L232.38 395.2L228.68 391.5Z"/><path d="M233.81 391.18L237.51 394.88L233.81 398.58L230.11 394.88Z"/><path d="M234.47 392.82L238.17 396.52L234.47 400.22L230.77 396.52Z"/><path d="M235.97 408.97L239.67 412.67L235.97 416.37L232.27 412.67Z"/><path d="M237 403.09L240.7 406.79L237 410.49L233.3 406.79Z"/><path d="M237.96 409.02L241.66 412.72L237.96 416.42L234.26 412.72Z"/><path d="M239.65 409.34L243.35 413.04L239.65 416.74L235.95 413.04Z"/><path d="M240.37 400.39L244.07 404.09L240.37 407.79L236.67 404.09Z"/><path d="M241.46 413.39L245.16 417.09L241.46 420.79L237.76 417.09Z"/><path d="M242.88 389.73L246.58 393.43L242.88 397.13L239.18 393.43Z"/><path d="M244.14 384.47L247.84 388.17L244.14 391.87L240.44 388.17Z"/><path d="M244.81 417.59L248.51 421.29L244.81 424.99L241.11 421.29Z"/><path d="M245.87 405.04L249.57 408.74L245.87 412.44L242.17 408.74Z"/><path d="M247.61 391.73L251.31 395.43L247.61 399.13L243.91 395.43Z"/><path d="M248.35 381.05L252.05 384.75L248.35 388.45L244.65 384.75Z"/><path d="M249.57 380.44L253.27 384.14L249.57 387.84L245.87 384.14Z"/><path d="M250.64 412.05L254.34 415.75L250.64 419.45L246.94 415.75Z"/></g>
<text x="238.8" y="451.24" font-size="8.2" class="p" fill="#ff2a3a" clip-path="url(#clip0)">-129.94%</text>
<path d="M71.1 509.75L269.6 517.6" stroke="#ff0000" stroke-width="1.3" stroke-dasharray="1.3 3.95 4.65 3.95" fill="none"/>
<path d="M71.1 511.55L269.6 519.4" stroke="#ff0000" stroke-width="1.3" stroke-dasharray="1.3 3.95 4.65 3.95" fill="none"/>
<path d="M67.4 510.5L270.1 518.5" stroke="#2a2a2a" stroke-width="1" fill="none"/>
<g fill="#ff8000"><path d="M76.55 516.19L80.5 509.39L72.6 509.39Z"/><path d="M77.36 524.56L81.31 517.76L73.41 517.76Z"/><path d="M78.07 502.75L82.02 495.95L74.12 495.95Z"/><path d="M79.37 516.69L83.32 509.89L75.42 509.89Z"/><path d="M80.76 525.08L84.71 518.28L76.81 518.28Z"/><path d="M82.07 502.29L86.02 495.49L78.12 495.49Z"/><path d="M82.61 530.49L86.56 523.69L78.66 523.69Z"/><path class="o" d="M83.1 486.3L85.65 481.5L80.55 481.5Z"/><path d="M84.22 499.75L88.17 492.95L80.27 492.95Z"/><path d="M85.37 526.6L89.32 519.8L81.42 519.8Z"/><path d="M85.9 516.1L89.85 509.3L81.95 509.3Z"/><path class="o" d="M87.3 538.4L89.85 533.6L84.75 533.6Z"/><path d="M87.61 523.4L91.56 516.6L83.66 516.6Z"/><path d="M88.49 507.31L92.44 500.51L84.54 500.51Z"/><path class="o" d="M89.5 535.1L92.05 530.3L86.95 530.3Z"/><path d="M89.79 520.41L93.74 513.61L85.84 513.61Z"/><path d="M90.77 505.53L94.72 498.73L86.82 498.73Z"/><path d="M91.89 516.35L95.84 509.55L87.94 509.55Z"/><path class="o" d="M93.1 537.4L95.65 532.6L90.55 532.6Z"/><path d="M93.14 520.73L97.09 513.93L89.19 513.93Z"/><path d="M94.17 524.44L98.12 517.64L90.22 517.64Z"/><path d="M95.02 518.25L98.97 511.45L91.07 511.45Z"/><path d="M96.11 522.14L100.06 515.34L92.16 515.34Z"/><path d="M97.66 515.55L101.61 508.75L93.71 508.75Z"/><path d="M98.25 504.71L102.2 497.91L94.3 497.91Z"/><path d="M99.44 499.06L103.39 492.26L95.49 492.26Z"/><path d="M100.38 501.92L104.33 495.12L96.43 495.12Z"/><path d="M101.64 515.62L105.59 508.82L97.69 508.82Z"/><path d="M102.93 523.8L106.88 517L98.98 517Z"/><path d="M103.76 517.33L107.71 510.53L99.81 510.53Z"/><path d="M105.04 502.22L108.99 495.42L101.09 495.42Z"/><path d="M106.28 507.1L110.23 500.3L102.33 500.3Z"/><path d="M107.23 509.94L111.18 503.14L103.28 503.14Z"/><path d="M108.61 510.94L112.56 504.14L104.66 504.14Z"/><path d="M109.55 528.4L113.5 521.6L105.6 521.6Z"/><path d="M110.52 513.61L114.47 506.81L106.57 506.81Z"/><path d="M111.92 530.96L115.87 524.16L107.97 524.16Z"/><path d="M112.91 514.14L116.86 507.34L108.96 507.34Z"/><path d="M113.95 519.26L117.9 512.46L110 512.46Z"/><path d="M114.84 517.05L118.79 510.25L110.89 510.25Z"/><path d="M116.56 529.97L120.51 523.17L112.61 523.17Z"/><path d="M117.08 520.82L121.03 514.02L113.13 514.02Z"/><path d="M118.34 519.16L122.29 512.36L114.39 512.36Z"/><path d="M119.6 524.06L123.55 517.26L115.65 517.26Z"/><path d="M120.97 528.3L124.92 521.5L117.02 521.5Z"/><path d="M121.62 525.76L125.57 518.96L117.67 518.96Z"/><path d="M122.59 530.44L126.54 523.64L118.64 523.64Z"/><path d="M124.14 507.18L128.09 500.38L120.19 500.38Z"/><path d="M125.43 519.14L129.38 512.34L121.48 512.34Z"/><path d="M126.17 509.96L130.12 503.16L122.22 503.16Z"/><path d="M127.68 506.61L131.63 499.81L123.73 499.81Z"/><path d="M128.3 515.84L132.25 509.04L124.35 509.04Z"/><path d="M129.82 525.89L133.77 519.09L125.87 519.09Z"/><path d="M130.29 521.06L134.24 514.26L126.34 514.26Z"/><path d="M131.89 517.77L135.84 510.97L127.94 510.97Z"/><path d="M133.16 521.75L137.11 514.95L129.21 514.95Z"/><path d="M133.82 514.16L137.77 507.36L129.87 507.36Z"/><path d="M135.35 508.81L139.3 502.01L131.4 502.01Z"/><path d="M136.28 521.6L140.23 514.8L132.33 514.8Z"/><path d="M137.19 515.09L141.14 508.29L133.24 508.29Z"/><path d="M138.1 526.5L142.05 519.7L134.15 519.7Z"/><path d="M139.66 517.55L143.61 510.75L135.71 510.75Z"/><path d="M140.56 523.1L144.51 516.3L136.61 516.3Z"/><path d="M141.8 518.43L145.75 511.63L137.85 511.63Z"/><path d="M142.65 513.39L146.6 506.59L138.7 506.59Z"/><path d="M143.63 511.87L147.58 505.07L139.68 505.07Z"/><path d="M144.8 532.48L148.75 525.68L140.85 525.68Z"/><path d="M146.31 507.75L150.26 500.95L142.36 500.95Z"/><path d="M147.05 515.85L151 509.05L143.1 509.05Z"/><path d="M148.28 526.04L152.23 519.24L144.33 519.24Z"/><path d="M149.61 531.16L153.56 524.36L145.66 524.36Z"/><path class="o" d="M150.2 500.8L152.75 496L147.65 496Z"/><path d="M150.49 518.16L154.44 511.36L146.54 511.36Z"/><path d="M151.75 518.75L155.7 511.95L147.8 511.95Z"/><path d="M152.81 515.21L156.76 508.41L148.86 508.41Z"/><path d="M154.19 522.57L158.14 515.77L150.24 515.77Z"/><path d="M155.03 514.19L158.98 507.39L151.08 507.39Z"/><path d="M156.05 507.99L160 501.19L152.1 501.19Z"/><path d="M157.68 521.04L161.63 514.24L153.73 514.24Z"/><path class="o" d="M158 482.1L160.55 477.3L155.45 477.3Z"/><path d="M158.19 517.72L162.14 510.92L154.24 510.92Z"/><path d="M159.65 523.15L163.6 516.35L155.7 516.35Z"/><path d="M160.75 522.65L164.7 515.85L156.8 515.85Z"/><path d="M161.66 517.42L165.61 510.62L157.71 510.62Z"/><path d="M163.06 528.43L167.01 521.63L159.11 521.63Z"/><path d="M164.18 511.43L168.13 504.63L160.23 504.63Z"/><path d="M165.08 520.57L169.03 513.77L161.13 513.77Z"/><path class="o" d="M165.3 539.3L167.85 534.5L162.75 534.5Z"/><path d="M166.08 520.32L170.03 513.52L162.13 513.52Z"/><path d="M167.04 509.89L170.99 503.09L163.09 503.09Z"/><path d="M168.71 508.64L172.66 501.84L164.76 501.84Z"/><path d="M169.9 506.59L173.85 499.79L165.95 499.79Z"/><path d="M170.5 527.01L174.45 520.21L166.55 520.21Z"/><path d="M171.64 504.22L175.59 497.42L167.69 497.42Z"/><path d="M172.99 509.9L176.94 503.1L169.04 503.1Z"/><path class="o" d="M174 536.7L176.55 531.9L171.45 531.9Z"/><path d="M174.2 525.51L178.15 518.71L170.25 518.71Z"/><path d="M175.36 516.81L179.31 510.01L171.41 510.01Z"/><path d="M176.41 519.21L180.36 512.41L172.46 512.41Z"/><path d="M177.46 521.21L181.41 514.41L173.51 514.41Z"/><path d="M178.53 503.96L182.48 497.16L174.58 497.16Z"/><path d="M179.19 510.15L183.14 503.35L175.24 503.35Z"/><path class="o" d="M179.8 538.4L182.35 533.6L177.25 533.6Z"/><path d="M180.65 519.36L184.6 512.56L176.7 512.56Z"/><path d="M181.92 508.84L185.87 502.04L177.97 502.04Z"/><path d="M182.74 519.64L186.69 512.84L178.79 512.84Z"/><path d="M183.81 505.09L187.76 498.29L179.86 498.29Z"/><path d="M185.04 513.79L188.99 506.99L181.09 506.99Z"/><path d="M186.25 516.65L190.2 509.85L182.3 509.85Z"/><path d="M186.97 514.41L190.92 507.61L183.02 507.61Z"/><path d="M188.62 509.3L192.57 502.5L184.67 502.5Z"/><path d="M189.7 531.93L193.65 525.13L185.75 525.13Z"/><path d="M190.46 525.99L194.41 519.19L186.51 519.19Z"/><path d="M191.59 511.62L195.54 504.82L187.64 504.82Z"/><path class="o" d="M192.6 493.4L195.15 488.6L190.05 488.6Z"/><path d="M192.65 518.87L196.6 512.07L188.7 512.07Z"/><path d="M193.93 528.8L197.88 522L189.98 522Z"/><path d="M195.44 521.75L199.39 514.95L191.49 514.95Z"/><path d="M196.14 517.45L200.09 510.65L192.19 510.65Z"/><path d="M197.64 514.04L201.59 507.24L193.69 507.24Z"/><path d="M198.21 519.87L202.16 513.07L194.26 513.07Z"/><path d="M199.36 515.9L203.31 509.1L195.41 509.1Z"/><path d="M200.67 503.68L204.62 496.88L196.72 496.88Z"/><path d="M201.52 505.23L205.47 498.43L197.57 498.43Z"/><path d="M202.6 504.64L206.55 497.84L198.65 497.84Z"/><path d="M204.12 508.69L208.07 501.89L200.17 501.89Z"/><path d="M204.99 509.64L208.94 502.84L201.04 502.84Z"/><path d="M206.37 506.41L210.32 499.61L202.42 499.61Z"/><path d="M207.13 513.8L211.08 507L203.18 507Z"/><path d="M208.3 506.3L212.25 499.5L204.35 499.5Z"/><path d="M209.84 508.28L213.79 501.48L205.89 501.48Z"/><path d="M210.72 529.11L214.67 522.31L206.77 522.31Z"/><path d="M211.5 513.87L215.45 507.07L207.55 507.07Z"/><path d="M212.83 520.8L216.78 514L208.88 514Z"/><path d="M213.71 513.77L217.66 506.97L209.76 506.97Z"/><path d="M214.79 515.79L218.74 508.99L210.84 508.99Z"/><path d="M216.27 525.39L220.22 518.59L212.32 518.59Z"/><path d="M217.05 525.18L221 518.38L213.1 518.38Z"/><path d="M218.24 514.2L222.19 507.4L214.29 507.4Z"/><path d="M219.24 521.46L223.19 514.66L215.29 514.66Z"/><path d="M220.38 520.61L224.33 513.81L216.43 513.81Z"/><path d="M221.74 517.8L225.69 511L217.79 511Z"/><path d="M222.65 517.91L226.6 511.11L218.7 511.11Z"/><path d="M223.87 518.47L227.82 511.67L219.92 511.67Z"/><path d="M225.07 515.69L229.02 508.89L221.12 508.89Z"/><path d="M226 521.94L229.95 515.14L222.05 515.14Z"/><path class="o" d="M226.7 498.5L229.25 493.7L224.15 493.7Z"/><path d="M227.07 514.37L231.02 507.57L223.12 507.57Z"/><path d="M228.19 519.38L232.14 512.58L224.24 512.58Z"/><path class="o" d="M229.3 537.4L231.85 532.6L226.75 532.6Z"/><path d="M229.88 510.46L233.83 503.66L225.93 503.66Z"/><path class="o" d="M230.2 499.8L232.75 495L227.65 495Z"/><path d="M230.56 510.25L234.51 503.45L226.61 503.45Z"/><path d="M231.75 521.01L235.7 514.21L227.8 514.21Z"/><path d="M233.08 525.06L237.03 518.26L229.13 518.26Z"/><path d="M234.21 522.86L238.16 516.06L230.26 516.06Z"/><path d="M235.26 520.22L239.21 513.42L231.31 513.42Z"/><path d="M236.51 509.35L240.46 502.55L232.56 502.55Z"/><path d="M237.36 522.04L241.31 515.24L233.41 515.24Z"/><path d="M238.2 527.28L242.15 520.48L234.25 520.48Z"/><path d="M239.64 506.7L243.59 499.9L235.69 499.9Z"/><path class="o" d="M239.9 490.5L242.45 485.7L237.35 485.7Z"/><path d="M240.64 518.74L244.59 511.94L236.69 511.94Z"/><path d="M242.02 534.43L245.97 527.63L238.07 527.63Z"/><path d="M242.71 531.96L246.66 525.16L238.76 525.16Z"/><path d="M244.14 531.46L248.09 524.66L240.19 524.66Z"/><path d="M244.76 528.15L248.71 521.35L240.81 521.35Z"/><path d="M246.14 537.33L250.09 530.53L242.19 530.53Z"/><path d="M247.23 517.7L251.18 510.9L243.28 510.9Z"/><path d="M248.15 516.46L252.1 509.66L244.2 509.66Z"/><path d="M249.8 513.2L253.75 506.4L245.85 506.4Z"/><path d="M250.91 525.25L254.86 518.45L246.96 518.45Z"/></g>
<text x="238.8" y="558.2" font-size="8.2" class="p" fill="#ff2a3a" clip-path="url(#clip0)">-5.49%</text>
<path d="M67.4 23.2V568" stroke="#1a1a1a" stroke-width="1.3" fill="none"/>
<path d="M270.1 23.2V568" stroke="#1a1a1a" stroke-width="1.6" fill="none"/>
<path d="M62.4 28.2H275.1" stroke="#1a1a1a" stroke-width="1.1" fill="none"/>
<path d="M62.4 135.16H275.1" stroke="#1a1a1a" stroke-width="1.7" fill="none"/>
<path d="M62.4 242.12H275.1" stroke="#1a1a1a" stroke-width="1.7" fill="none"/>
<path d="M62.4 349.08H275.1" stroke="#1a1a1a" stroke-width="1.7" fill="none"/>
<path d="M62.4 456.04H275.1" stroke="#1a1a1a" stroke-width="1.7" fill="none"/>
<path d="M62.4 563H275.1" stroke="#1a1a1a" stroke-width="1.7" fill="none"/>
<path d="M67.4 28.2v-5.2M85.73 28.2v-3.3M104.05 28.2v-3.3M122.38 28.2v-3.3M140.71 28.2v-5.2M159.04 28.2v-3.3M177.36 28.2v-3.3M195.69 28.2v-3.3M214.02 28.2v-5.2M232.35 28.2v-3.3M250.67 28.2v-3.3M269 28.2v-3.3M67.4 135.16v5.2M85.73 135.16v3.3M104.05 135.16v3.3M122.38 135.16v3.3M140.71 135.16v5.2M159.04 135.16v3.3M177.36 135.16v3.3M195.69 135.16v3.3M214.02 135.16v5.2M232.35 135.16v3.3M250.67 135.16v3.3M269 135.16v3.3M67.4 242.12v5.2M85.73 242.12v3.3M104.05 242.12v3.3M122.38 242.12v3.3M140.71 242.12v5.2M159.04 242.12v3.3M177.36 242.12v3.3M195.69 242.12v3.3M214.02 242.12v5.2M232.35 242.12v3.3M250.67 242.12v3.3M269 242.12v3.3M67.4 349.08v5.2M85.73 349.08v3.3M104.05 349.08v3.3M122.38 349.08v3.3M140.71 349.08v5.2M159.04 349.08v3.3M177.36 349.08v3.3M195.69 349.08v3.3M214.02 349.08v5.2M232.35 349.08v3.3M250.67 349.08v3.3M269 349.08v3.3M67.4 456.04v5.2M85.73 456.04v3.3M104.05 456.04v3.3M122.38 456.04v3.3M140.71 456.04v5.2M159.04 456.04v3.3M177.36 456.04v3.3M195.69 456.04v3.3M214.02 456.04v5.2M232.35 456.04v3.3M250.67 456.04v3.3M269 456.04v3.3M67.4 563v5.2M85.73 563v3.3M104.05 563v3.3M122.38 563v3.3M140.71 563v5.2M159.04 563v3.3M177.36 563v3.3M195.69 563v3.3M214.02 563v5.2M232.35 563v3.3M250.67 563v3.3M269 563v3.3" stroke="#1a1a1a" stroke-width="1.2" fill="none"/>
<text x="59.1" y="139.46" font-size="12" letter-spacing="-0.4" text-anchor="end" fill="#1a1a1a">220</text>
<text x="59.1" y="112.72" font-size="12" letter-spacing="-0.4" text-anchor="end" fill="#1a1a1a">230</text>
<text x="59.1" y="85.98" font-size="12" letter-spacing="-0.4" text-anchor="end" fill="#1a1a1a">240</text>
<text x="59.1" y="59.24" font-size="12" letter-spacing="-0.4" text-anchor="end" fill="#1a1a1a">250</text>
<text x="59.1" y="32.5" font-size="12" letter-spacing="-0.4" text-anchor="end" fill="#1a1a1a">260</text>
<text transform="translate(12.4 81.68) rotate(-90)" font-size="14.5" text-anchor="middle" fill="#1a1a1a">Ar40</text>
<text x="278.1" y="246.42" font-size="12" letter-spacing="-0.4" text-anchor="start" fill="#1a1a1a">3</text>
<text x="278.1" y="219.68" font-size="12" letter-spacing="-0.4" text-anchor="start" fill="#1a1a1a">4</text>
<text x="278.1" y="192.94" font-size="12" letter-spacing="-0.4" text-anchor="start" fill="#1a1a1a">5</text>
<text x="278.1" y="166.2" font-size="12" letter-spacing="-0.4" text-anchor="start" fill="#1a1a1a">6</text>
<text x="278.1" y="139.46" font-size="12" letter-spacing="-0.4" text-anchor="start" fill="#1a1a1a">7</text>
<text transform="translate(324.6 188.64) rotate(90)" font-size="14.5" text-anchor="middle" fill="#1a1a1a">Ar39</text>
<text x="59.1" y="353.38" font-size="12" letter-spacing="-0.4" text-anchor="end" fill="#1a1a1a">-1.5</text>
<text x="59.1" y="331.99" font-size="12" letter-spacing="-0.4" text-anchor="end" fill="#1a1a1a">-1.0</text>
<text x="59.1" y="310.6" font-size="12" letter-spacing="-0.4" text-anchor="end" fill="#1a1a1a">-0.5</text>
<text x="59.1" y="289.2" font-size="12" letter-spacing="-0.4" text-anchor="end" fill="#1a1a1a">0</text>
<text x="59.1" y="267.81" font-size="12" letter-spacing="-0.4" text-anchor="end" fill="#1a1a1a">0.5</text>
<text x="59.1" y="246.42" font-size="12" letter-spacing="-0.4" text-anchor="end" fill="#1a1a1a">1.0</text>
<text transform="translate(12.4 295.6) rotate(-90)" font-size="14.5" text-anchor="middle" fill="#1a1a1a">Ar38</text>
<text x="278.1" y="460.34" font-size="12" letter-spacing="-0.4" text-anchor="start" fill="#1a1a1a">-1.0</text>
<text x="278.1" y="433.6" font-size="12" letter-spacing="-0.4" text-anchor="start" fill="#1a1a1a">-0.5</text>
<text x="278.1" y="406.86" font-size="12" letter-spacing="-0.4" text-anchor="start" fill="#1a1a1a">0</text>
<text x="278.1" y="380.12" font-size="12" letter-spacing="-0.4" text-anchor="start" fill="#1a1a1a">0.5</text>
<text x="278.1" y="353.38" font-size="12" letter-spacing="-0.4" text-anchor="start" fill="#1a1a1a">1.0</text>
<text transform="translate(324.6 402.56) rotate(90)" font-size="14.5" text-anchor="middle" fill="#1a1a1a">Ar37</text>
<text x="59.1" y="567.3" font-size="12" letter-spacing="-0.4" text-anchor="end" fill="#1a1a1a">0.15</text>
<text x="59.1" y="540.56" font-size="12" letter-spacing="-0.4" text-anchor="end" fill="#1a1a1a">0.20</text>
<text x="59.1" y="513.82" font-size="12" letter-spacing="-0.4" text-anchor="end" fill="#1a1a1a">0.25</text>
<text x="59.1" y="487.08" font-size="12" letter-spacing="-0.4" text-anchor="end" fill="#1a1a1a">0.30</text>
<text x="59.1" y="460.34" font-size="12" letter-spacing="-0.4" text-anchor="end" fill="#1a1a1a">0.35</text>
<text transform="translate(12.4 509.52) rotate(-90)" font-size="14.5" text-anchor="middle" fill="#1a1a1a">Ar36</text>
<path d="M67.4 129.81h-3.2M270.1 129.81h3.2M67.4 124.46h-3.2M270.1 124.46h3.2M67.4 119.12h-3.2M270.1 119.12h3.2M67.4 113.77h-3.2M270.1 113.77h3.2M67.4 108.42h-5.2M270.1 108.42h5.2M67.4 103.07h-3.2M270.1 103.07h3.2M67.4 97.72h-3.2M270.1 97.72h3.2M67.4 92.38h-3.2M270.1 92.38h3.2M67.4 87.03h-3.2M270.1 87.03h3.2M67.4 81.68h-5.2M270.1 81.68h5.2M67.4 76.33h-3.2M270.1 76.33h3.2M67.4 70.98h-3.2M270.1 70.98h3.2M67.4 65.64h-3.2M270.1 65.64h3.2M67.4 60.29h-3.2M270.1 60.29h3.2M67.4 54.94h-5.2M270.1 54.94h5.2M67.4 49.59h-3.2M270.1 49.59h3.2M67.4 44.24h-3.2M270.1 44.24h3.2M67.4 38.9h-3.2M270.1 38.9h3.2M67.4 33.55h-3.2M270.1 33.55h3.2M67.4 236.77h-3.2M270.1 236.77h3.2M67.4 231.42h-3.2M270.1 231.42h3.2M67.4 226.08h-3.2M270.1 226.08h3.2M67.4 220.73h-3.2M270.1 220.73h3.2M67.4 215.38h-5.2M270.1 215.38h5.2M67.4 210.03h-3.2M270.1 210.03h3.2M67.4 204.68h-3.2M270.1 204.68h3.2M67.4 199.34h-3.2M270.1 199.34h3.2M67.4 193.99h-3.2M270.1 193.99h3.2M67.4 188.64h-5.2M270.1 188.64h5.2M67.4 183.29h-3.2M270.1 183.29h3.2M67.4 177.94h-3.2M270.1 177.94h3.2M67.4 172.6h-3.2M270.1 172.6h3.2M67.4 167.25h-3.2M270.1 167.25h3.2M67.4 161.9h-5.2M270.1 161.9h5.2M67.4 156.55h-3.2M270.1 156.55h3.2M67.4 151.2h-3.2M270.1 151.2h3.2M67.4 145.86h-3.2M270.1 145.86h3.2M67.4 140.51h-3.2M270.1 140.51h3.2M67.4 344.8h-3.2M270.1 344.8h3.2M67.4 340.52h-3.2M270.1 340.52h3.2M67.4 336.24h-3.2M270.1 336.24h3.2M67.4 331.97h-3.2M270.1 331.97h3.2M67.4 327.69h-5.2M270.1 327.69h5.2M67.4 323.41h-3.2M270.1 323.41h3.2M67.4 319.13h-3.2M270.1 319.13h3.2M67.4 314.85h-3.2M270.1 314.85h3.2M67.4 310.57h-3.2M270.1 310.57h3.2M67.4 306.3h-5.2M270.1 306.3h5.2M67.4 302.02h-3.2M270.1 302.02h3.2M67.4 297.74h-3.2M270.1 297.74h3.2M67.4 293.46h-3.2M270.1 293.46h3.2M67.4 289.18h-3.2M270.1 289.18h3.2M67.4 284.9h-5.2M270.1 284.9h5.2M67.4 280.63h-3.2M270.1 280.63h3.2M67.4 276.35h-3.2M270.1 276.35h3.2M67.4 272.07h-3.2M270.1 272.07h3.2M67.4 267.79h-3.2M270.1 267.79h3.2M67.4 263.51h-5.2M270.1 263.51h5.2M67.4 259.23h-3.2M270.1 259.23h3.2M67.4 254.96h-3.2M270.1 254.96h3.2M67.4 250.68h-3.2M270.1 250.68h3.2M67.4 246.4h-3.2M270.1 246.4h3.2M67.4 450.69h-3.2M270.1 450.69h3.2M67.4 445.34h-3.2M270.1 445.34h3.2M67.4 440h-3.2M270.1 440h3.2M67.4 434.65h-3.2M270.1 434.65h3.2M67.4 429.3h-5.2M270.1 429.3h5.2M67.4 423.95h-3.2M270.1 423.95h3.2M67.4 418.6h-3.2M270.1 418.6h3.2M67.4 413.26h-3.2M270.1 413.26h3.2M67.4 407.91h-3.2M270.1 407.91h3.2M67.4 402.56h-5.2M270.1 402.56h5.2M67.4 397.21h-3.2M270.1 397.21h3.2M67.4 391.86h-3.2M270.1 391.86h3.2M67.4 386.52h-3.2M270.1 386.52h3.2M67.4 381.17h-3.2M270.1 381.17h3.2M67.4 375.82h-5.2M270.1 375.82h5.2M67.4 370.47h-3.2M270.1 370.47h3.2M67.4 365.12h-3.2M270.1 365.12h3.2M67.4 359.78h-3.2M270.1 359.78h3.2M67.4 354.43h-3.2M270.1 354.43h3.2M67.4 557.65h-3.2M270.1 557.65h3.2M67.4 552.3h-3.2M270.1 552.3h3.2M67.4 546.96h-3.2M270.1 546.96h3.2M67.4 541.61h-3.2M270.1 541.61h3.2M67.4 536.26h-5.2M270.1 536.26h5.2M67.4 530.91h-3.2M270.1 530.91h3.2M67.4 525.56h-3.2M270.1 525.56h3.2M67.4 520.22h-3.2M270.1 520.22h3.2M67.4 514.87h-3.2M270.1 514.87h3.2M67.4 509.52h-5.2M270.1 509.52h5.2M67.4 504.17h-3.2M270.1 504.17h3.2M67.4 498.82h-3.2M270.1 498.82h3.2M67.4 493.48h-3.2M270.1 493.48h3.2M67.4 488.13h-3.2M270.1 488.13h3.2M67.4 482.78h-5.2M270.1 482.78h5.2M67.4 477.43h-3.2M270.1 477.43h3.2M67.4 472.08h-3.2M270.1 472.08h3.2M67.4 466.74h-3.2M270.1 466.74h3.2M67.4 461.39h-3.2M270.1 461.39h3.2" stroke="#1a1a1a" stroke-width="1.2" fill="none"/>
<text x="67.2" y="578.3" font-size="12" letter-spacing="-0.4" text-anchor="middle" fill="#1a1a1a">0</text>
<text x="140.51" y="578.3" font-size="12" letter-spacing="-0.4" text-anchor="middle" fill="#1a1a1a">200</text>
<text x="213.82" y="578.3" font-size="12" letter-spacing="-0.4" text-anchor="middle" fill="#1a1a1a">400</text>
<text x="168.75" y="608.3" font-size="15" text-anchor="middle" fill="#1a1a1a">Time</text>
<clipPath id="clip1"><rect x="414.1" y="26.9" width="203.7" height="537.1"/></clipPath>
<text x="516.15" y="12.25" font-size="16" letter-spacing="0.45" text-anchor="middle" fill="#1a1a1a">642-06</text>
<path d="M417.4 48.0Q517.9 82.4 617.8 121" stroke="#ff0000" stroke-width="1.3" stroke-dasharray="1.3 3.95 4.65 3.95" fill="none"/>
<g fill="#000"><circle cx="423.06" cy="48.88" r="3.3"/><circle cx="423.63" cy="46.74" r="3.3"/><circle cx="425.23" cy="48.03" r="3.3"/><circle class="o" cx="425.9" cy="46.3" r="2.75"/><circle cx="426.36" cy="52.48" r="3.3"/><circle cx="427.01" cy="51.34" r="3.3"/><circle cx="427.99" cy="48.28" r="3.3"/><circle cx="428.98" cy="49.26" r="3.3"/><circle cx="430.2" cy="52.02" r="3.3"/><circle class="o" cx="430.3" cy="56.8" r="2.75"/><circle cx="430.9" cy="49.74" r="3.3"/><circle cx="431.9" cy="51.33" r="3.3"/><circle cx="433.56" cy="53.1" r="3.3"/><circle cx="434.22" cy="53.74" r="3.3"/><circle cx="435.26" cy="54.1" r="3.3"/><circle cx="436.12" cy="54.38" r="3.3"/><circle cx="436.96" cy="54.1" r="3.3"/><circle cx="438" cy="56.5" r="3.3"/><circle cx="439.02" cy="53.98" r="3.3"/><circle cx="440.52" cy="55.63" r="3.3"/><circle cx="441.6" cy="55.17" r="3.3"/><circle cx="442.75" cy="56.89" r="3.3"/><circle cx="443.8" cy="55.77" r="3.3"/><circle cx="444.22" cy="57.18" r="3.3"/><circle cx="445.14" cy="56.55" r="3.3"/><circle cx="446.66" cy="58.31" r="3.3"/><circle cx="447.4" cy="56.59" r="3.3"/><circle cx="448.89" cy="57.63" r="3.3"/><circle cx="449.59" cy="59.23" r="3.3"/><circle cx="450.58" cy="59.3" r="3.3"/><circle cx="451.59" cy="61.81" r="3.3"/><circle cx="452.53" cy="58.69" r="3.3"/><circle cx="453.75" cy="61.27" r="3.3"/><circle cx="454.49" cy="59.48" r="3.3"/><circle cx="456.1" cy="61.54" r="3.3"/><circle cx="457" cy="60.54" r="3.3"/><circle cx="458.06" cy="61.94" r="3.3"/><circle cx="459.16" cy="60.34" r="3.3"/><circle cx="459.99" cy="64.1" r="3.3"/><circle cx="461.17" cy="62.14" r="3.3"/><circle cx="462.08" cy="64" r="3.3"/><circle cx="462.91" cy="62.61" r="3.3"/><circle cx="463.6" cy="65.14" r="3.3"/><circle cx="464.99" cy="67.08" r="3.3"/><circle cx="466.03" cy="66.26" r="3.3"/><circle cx="467.21" cy="65.66" r="3.3"/><circle class="o" cx="467.7" cy="61.6" r="2.75"/><circle cx="468.33" cy="68.32" r="3.3"/><circle cx="469.18" cy="65.25" r="3.3"/><circle cx="469.8" cy="64.23" r="3.3"/><circle cx="470.83" cy="66.01" r="3.3"/><circle cx="472.43" cy="67.15" r="3.3"/><circle cx="473.46" cy="67.59" r="3.3"/><circle cx="474.14" cy="66.74" r="3.3"/><circle cx="474.92" cy="69.22" r="3.3"/><circle cx="475.97" cy="67.19" r="3.3"/><circle class="o" cx="476.6" cy="66" r="2.75"/><circle cx="477" cy="69.91" r="3.3"/><circle class="o" cx="477.5" cy="74.3" r="2.75"/><circle cx="478.61" cy="69.27" r="3.3"/><circle cx="479.27" cy="71.34" r="3.3"/><circle cx="480.33" cy="68.28" r="3.3"/><circle cx="481.62" cy="70.19" r="3.3"/><circle cx="482.22" cy="71.41" r="3.3"/><circle cx="483.46" cy="70.05" r="3.3"/><circle cx="484.52" cy="73.21" r="3.3"/><circle cx="485.42" cy="72.79" r="3.3"/><circle cx="486.23" cy="70.46" r="3.3"/><circle cx="487.48" cy="73.19" r="3.3"/><circle cx="488.28" cy="73.91" r="3.3"/><circle class="o" cx="488.5" cy="78.3" r="2.75"/><circle cx="489.45" cy="70.48" r="3.3"/><circle cx="490.54" cy="75.81" r="3.3"/><circle class="o" cx="490.6" cy="70" r="2.75"/><circle cx="491.41" cy="75.82" r="3.3"/><circle cx="493.03" cy="74.48" r="3.3"/><circle cx="493.83" cy="74.3" r="3.3"/><circle cx="495.03" cy="74.71" r="3.3"/><circle cx="496.06" cy="73.02" r="3.3"/><circle cx="496.61" cy="76.23" r="3.3"/><circle cx="497.53" cy="77.31" r="3.3"/><circle cx="499.18" cy="75.54" r="3.3"/><circle cx="499.85" cy="74.17" r="3.3"/><circle cx="501" cy="75.76" r="3.3"/><circle cx="502.16" cy="78.14" r="3.3"/><circle cx="502.8" cy="78.77" r="3.3"/><circle cx="504.01" cy="78.21" r="3.3"/><circle cx="504.82" cy="78.18" r="3.3"/><circle cx="505.79" cy="79.91" r="3.3"/><circle cx="506.68" cy="80.33" r="3.3"/><circle cx="507.85" cy="78.28" r="3.3"/><circle cx="508.89" cy="80.51" r="3.3"/><circle cx="510.28" cy="80.14" r="3.3"/><circle cx="511.13" cy="78.89" r="3.3"/><circle cx="512.35" cy="79.77" r="3.3"/><circle cx="513.01" cy="81.73" r="3.3"/><circle cx="513.99" cy="81.45" r="3.3"/><circle cx="515.28" cy="83.02" r="3.3"/><circle cx="516.08" cy="84.05" r="3.3"/><circle cx="517.46" cy="80.42" r="3.3"/><circle cx="518.21" cy="85.41" r="3.3"/><circle cx="519.16" cy="83.2" r="3.3"/><circle cx="520.54" cy="83.14" r="3.3"/><circle cx="521.15" cy="84.04" r="3.3"/><circle cx="522.57" cy="85.21" r="3.3"/><circle cx="523.34" cy="84.09" r="3.3"/><circle cx="524.15" cy="85.25" r="3.3"/><circle cx="525.57" cy="85.51" r="3.3"/><circle cx="526.58" cy="86.2" r="3.3"/><circle cx="527.23" cy="85.66" r="3.3"/><circle cx="528.52" cy="87.03" r="3.3"/><circle cx="529.55" cy="89.88" r="3.3"/><circle cx="530.76" cy="88.09" r="3.3"/><circle class="o" cx="531" cy="95.2" r="2.75"/><circle cx="531.41" cy="86.1" r="3.3"/><circle cx="532.7" cy="86.43" r="3.3"/><circle cx="534.04" cy="87.99" r="3.3"/><circle cx="534.35" cy="90.12" r="3.3"/><circle cx="535.89" cy="89.52" r="3.3"/><circle cx="536.64" cy="88.49" r="3.3"/><circle cx="537.77" cy="89.03" r="3.3"/><circle cx="538.65" cy="91.96" r="3.3"/><circle cx="539.8" cy="90.77" r="3.3"/><circle cx="540.85" cy="90.31" r="3.3"/><circle cx="542.19" cy="93.27" r="3.3"/><circle cx="543.18" cy="93.49" r="3.3"/><circle class="o" cx="543.7" cy="98.3" r="2.75"/><circle cx="544.25" cy="92.84" r="3.3"/><circle cx="545.3" cy="91.56" r="3.3"/><circle cx="545.91" cy="94.95" r="3.3"/><circle cx="547.22" cy="92.78" r="3.3"/><circle cx="548.32" cy="93.8" r="3.3"/><circle cx="548.78" cy="92.37" r="3.3"/><circle class="o" cx="549.4" cy="100.9" r="2.75"/><circle cx="550.25" cy="96.96" r="3.3"/><circle cx="551.17" cy="97.2" r="3.3"/><circle cx="551.91" cy="96.22" r="3.3"/><circle cx="553.26" cy="97.55" r="3.3"/><circle cx="554.33" cy="97.95" r="3.3"/><circle cx="555.33" cy="96.7" r="3.3"/><circle cx="555.87" cy="96.81" r="3.3"/><circle cx="557.58" cy="96.92" r="3.3"/><circle cx="558.18" cy="100.56" r="3.3"/><circle cx="559.54" cy="99.65" r="3.3"/><circle cx="560.08" cy="101.19" r="3.3"/><circle cx="561.44" cy="99.37" r="3.3"/><circle cx="562.06" cy="101.16" r="3.3"/><circle cx="563.46" cy="97.98" r="3.3"/><circle cx="564.55" cy="99.42" r="3.3"/><circle cx="565.38" cy="103.22" r="3.3"/><circle cx="566.65" cy="103.72" r="3.3"/><circle cx="567.5" cy="101.68" r="3.3"/><circle cx="568.21" cy="104.06" r="3.3"/><circle cx="569.23" cy="104.21" r="3.3"/><circle cx="570.26" cy="104.08" r="3.3"/><circle class="o" cx="571.4" cy="98.8" r="2.75"/><circle cx="571.5" cy="104.39" r="3.3"/><circle cx="572.96" cy="101.14" r="3.3"/><circle cx="573.54" cy="106.45" r="3.3"/><circle cx="574.93" cy="101.76" r="3.3"/><circle cx="575.83" cy="105.21" r="3.3"/><circle cx="576.89" cy="102.86" r="3.3"/><circle cx="577.88" cy="103.82" r="3.3"/><circle cx="578.58" cy="107.09" r="3.3"/><circle cx="580.09" cy="103.52" r="3.3"/><circle cx="580.79" cy="105.22" r="3.3"/><circle cx="582.19" cy="105.28" r="3.3"/><circle cx="582.54" cy="103.77" r="3.3"/><circle cx="583.64" cy="106.59" r="3.3"/><circle cx="584.68" cy="105.91" r="3.3"/><circle cx="586.14" cy="107.08" r="3.3"/><circle cx="586.71" cy="106.27" r="3.3"/><circle class="o" cx="586.9" cy="105" r="2.75"/><circle cx="587.97" cy="109.1" r="3.3"/><circle cx="589.06" cy="108.12" r="3.3"/><circle cx="590.08" cy="107.15" r="3.3"/><circle cx="590.95" cy="108.53" r="3.3"/><circle cx="592.41" cy="110.9" r="3.3"/><circle cx="593.12" cy="107.32" r="3.3"/><circle cx="593.94" cy="108.52" r="3.3"/><circle cx="595.24" cy="109.2" r="3.3"/><circle cx="595.94" cy="109.22" r="3.3"/><circle class="o" cx="596.3" cy="115.9" r="2.75"/><circle cx="597.38" cy="108.63" r="3.3"/><circle cx="598.04" cy="107.6" r="3.3"/></g>
<text x="585.5" y="129.52" font-size="8.2" class="p" fill="#ff2a3a" clip-path="url(#clip1)">-8.5%</text>
<path d="M417.8 152.19L617.3 227.6" stroke="#ff0000" stroke-width="1.3" stroke-dasharray="1.3 3.95 4.65 3.95" fill="none"/>
<path d="M417.8 153.79L617.3 229.2" stroke="#ff0000" stroke-width="1.3" stroke-dasharray="1.3 3.95 4.65 3.95" fill="none"/>
<path d="M414.1 151.6L617.8 228.4" stroke="#2a2a2a" stroke-width="1" fill="none"/>
<g fill="#f00"><rect x="419.37" y="146.68" width="6.8" height="6.8"/><rect x="420.56" y="147.59" width="6.8" height="6.8"/><rect x="422.01" y="143.58" width="6.8" height="6.8"/><rect x="422.76" y="151.48" width="6.8" height="6.8"/><rect x="424.29" y="144.85" width="6.8" height="6.8"/><rect x="425.45" y="159.94" width="6.8" height="6.8"/><rect x="426.14" y="159.78" width="6.8" height="6.8"/><rect x="427.72" y="147" width="6.8" height="6.8"/><rect x="428.28" y="152.3" width="6.8" height="6.8"/><rect class="o" x="429.5" y="137.8" width="5.6" height="5.6"/><rect x="429.63" y="159.38" width="6.8" height="6.8"/><rect x="430.56" y="151.05" width="6.8" height="6.8"/><rect x="431.85" y="157.21" width="6.8" height="6.8"/><rect x="432.96" y="154.69" width="6.8" height="6.8"/><rect x="434.44" y="157.32" width="6.8" height="6.8"/><rect x="435.62" y="166.29" width="6.8" height="6.8"/><rect class="o" x="436.9" y="137.8" width="5.6" height="5.6"/><rect x="436.39" y="162.87" width="6.8" height="6.8"/><rect x="437.52" y="164.6" width="6.8" height="6.8"/><rect x="439.11" y="164.72" width="6.8" height="6.8"/><rect x="439.65" y="151.52" width="6.8" height="6.8"/><rect x="441.01" y="163.18" width="6.8" height="6.8"/><rect x="442.23" y="163.77" width="6.8" height="6.8"/><rect x="443.41" y="159.14" width="6.8" height="6.8"/><rect x="444.17" y="168.66" width="6.8" height="6.8"/><rect x="445.42" y="169.84" width="6.8" height="6.8"/><rect class="o" x="446.5" y="143.9" width="5.6" height="5.6"/><rect x="446.43" y="161.99" width="6.8" height="6.8"/><rect x="448.01" y="169.9" width="6.8" height="6.8"/><rect x="449.12" y="155.93" width="6.8" height="6.8"/><rect x="450.32" y="165.99" width="6.8" height="6.8"/><rect class="o" x="451.7" y="143.3" width="5.6" height="5.6"/><rect x="451.16" y="169.72" width="6.8" height="6.8"/><rect x="451.99" y="157.82" width="6.8" height="6.8"/><rect x="453.77" y="175.89" width="6.8" height="6.8"/><rect x="454.32" y="162.26" width="6.8" height="6.8"/><rect x="455.54" y="172.19" width="6.8" height="6.8"/><rect x="456.52" y="161.36" width="6.8" height="6.8"/><rect x="457.92" y="172.66" width="6.8" height="6.8"/><rect x="459.28" y="161.25" width="6.8" height="6.8"/><rect x="460.58" y="169.51" width="6.8" height="6.8"/><rect x="461.43" y="166.49" width="6.8" height="6.8"/><rect x="462.22" y="172.69" width="6.8" height="6.8"/><rect class="o" x="463.9" y="186.6" width="5.6" height="5.6"/><rect x="463.94" y="176.44" width="6.8" height="6.8"/><rect x="464.49" y="179.38" width="6.8" height="6.8"/><rect x="465.7" y="176.02" width="6.8" height="6.8"/><rect x="466.84" y="175.65" width="6.8" height="6.8"/><rect x="468.47" y="175.11" width="6.8" height="6.8"/><rect x="469.25" y="174.56" width="6.8" height="6.8"/><rect x="470.7" y="171.43" width="6.8" height="6.8"/><rect x="471.62" y="163.35" width="6.8" height="6.8"/><rect x="472.69" y="172" width="6.8" height="6.8"/><rect x="474.05" y="171.33" width="6.8" height="6.8"/><rect class="o" x="475.1" y="186.6" width="5.6" height="5.6"/><rect x="474.76" y="168.64" width="6.8" height="6.8"/><rect x="475.93" y="173.8" width="6.8" height="6.8"/><rect class="o" x="477.7" y="153.5" width="5.6" height="5.6"/><rect x="477.54" y="166.74" width="6.8" height="6.8"/><rect class="o" x="478.6" y="156.1" width="5.6" height="5.6"/><rect x="478.44" y="174.96" width="6.8" height="6.8"/><rect x="479.41" y="180.46" width="6.8" height="6.8"/><rect x="480.72" y="182.78" width="6.8" height="6.8"/><rect x="481.94" y="173.02" width="6.8" height="6.8"/><rect x="483.04" y="177.49" width="6.8" height="6.8"/><rect x="484.02" y="176.7" width="6.8" height="6.8"/><rect x="485.24" y="179.03" width="6.8" height="6.8"/><rect x="486.09" y="172.77" width="6.8" height="6.8"/><rect x="487.4" y="167.71" width="6.8" height="6.8"/><rect x="488.83" y="177.06" width="6.8" height="6.8"/><rect x="489.98" y="172.6" width="6.8" height="6.8"/><rect x="490.45" y="182.12" width="6.8" height="6.8"/><rect x="491.76" y="183.02" width="6.8" height="6.8"/><rect x="492.89" y="184.49" width="6.8" height="6.8"/><rect x="494.07" y="185.69" width="6.8" height="6.8"/><rect x="495.19" y="181.72" width="6.8" height="6.8"/><rect x="496.3" y="183.19" width="6.8" height="6.8"/><rect x="497.57" y="180.46" width="6.8" height="6.8"/><rect x="498.53" y="178.52" width="6.8" height="6.8"/><rect x="500.03" y="176.18" width="6.8" height="6.8"/><rect x="500.64" y="184.62" width="6.8" height="6.8"/><rect x="502.46" y="184.13" width="6.8" height="6.8"/><rect x="503.02" y="187.74" width="6.8" height="6.8"/><rect class="o" x="503.7" y="168" width="5.6" height="5.6"/><rect x="504.67" y="177.69" width="6.8" height="6.8"/><rect x="505.64" y="179.18" width="6.8" height="6.8"/><rect x="506.93" y="188.69" width="6.8" height="6.8"/><rect x="507.73" y="184.25" width="6.8" height="6.8"/><rect x="508.78" y="184.15" width="6.8" height="6.8"/><rect x="510.12" y="189.11" width="6.8" height="6.8"/><rect x="510.94" y="185.81" width="6.8" height="6.8"/><rect x="512.24" y="193.51" width="6.8" height="6.8"/><rect class="o" x="513.6" y="203.3" width="5.6" height="5.6"/><rect x="513.46" y="194.84" width="6.8" height="6.8"/><rect x="514.28" y="183.08" width="6.8" height="6.8"/><rect x="515.91" y="182.15" width="6.8" height="6.8"/><rect x="516.79" y="191.41" width="6.8" height="6.8"/><rect x="517.98" y="197.13" width="6.8" height="6.8"/><rect x="519.22" y="189.21" width="6.8" height="6.8"/><rect x="520.51" y="185.41" width="6.8" height="6.8"/><rect x="521.08" y="187.9" width="6.8" height="6.8"/><rect x="522.25" y="189.38" width="6.8" height="6.8"/><rect x="523.33" y="185.6" width="6.8" height="6.8"/><rect x="525.08" y="185.17" width="6.8" height="6.8"/><rect x="525.82" y="188.17" width="6.8" height="6.8"/><rect x="527.17" y="200.18" width="6.8" height="6.8"/><rect x="527.89" y="197.9" width="6.8" height="6.8"/><rect x="529.58" y="188.88" width="6.8" height="6.8"/><rect x="530.12" y="186.44" width="6.8" height="6.8"/><rect x="531.66" y="185.57" width="6.8" height="6.8"/><rect x="532.31" y="183.06" width="6.8" height="6.8"/><rect class="o" x="533.2" y="210.1" width="5.6" height="5.6"/><rect x="534.06" y="189.75" width="6.8" height="6.8"/><rect x="534.84" y="195.98" width="6.8" height="6.8"/><rect x="536.15" y="196.97" width="6.8" height="6.8"/><rect class="o" x="537.1" y="176.3" width="5.6" height="5.6"/><rect x="537.26" y="197.53" width="6.8" height="6.8"/><rect x="538.1" y="190.36" width="6.8" height="6.8"/><rect class="o" x="538.7" y="206.9" width="5.6" height="5.6"/><rect x="539.41" y="189.88" width="6.8" height="6.8"/><rect class="o" x="540.3" y="183.4" width="5.6" height="5.6"/><rect x="540.21" y="197.73" width="6.8" height="6.8"/><rect x="541.92" y="197.31" width="6.8" height="6.8"/><rect x="542.81" y="193.12" width="6.8" height="6.8"/><rect x="543.81" y="195.45" width="6.8" height="6.8"/><rect x="545.03" y="196.12" width="6.8" height="6.8"/><rect x="546.17" y="199.49" width="6.8" height="6.8"/><rect x="547.12" y="199.29" width="6.8" height="6.8"/><rect x="548.4" y="201.83" width="6.8" height="6.8"/><rect x="549.76" y="195.59" width="6.8" height="6.8"/><rect x="550.8" y="205.66" width="6.8" height="6.8"/><rect x="552.25" y="205.72" width="6.8" height="6.8"/><rect x="553.21" y="198.48" width="6.8" height="6.8"/><rect x="554.4" y="215.18" width="6.8" height="6.8"/><rect x="555.03" y="201.66" width="6.8" height="6.8"/><rect x="556.43" y="214.59" width="6.8" height="6.8"/><rect x="557.36" y="204.88" width="6.8" height="6.8"/><rect x="558.49" y="195.23" width="6.8" height="6.8"/><rect x="559.68" y="203.76" width="6.8" height="6.8"/><rect x="560.99" y="199.37" width="6.8" height="6.8"/><rect x="562.01" y="204" width="6.8" height="6.8"/><rect x="563.13" y="206.53" width="6.8" height="6.8"/><rect x="564.24" y="205.7" width="6.8" height="6.8"/><rect x="565.82" y="215.29" width="6.8" height="6.8"/><rect x="566.54" y="203.49" width="6.8" height="6.8"/><rect x="568.04" y="207.27" width="6.8" height="6.8"/><rect class="o" x="569.2" y="189.8" width="5.6" height="5.6"/><rect x="569.22" y="204.44" width="6.8" height="6.8"/><rect x="570.08" y="208.56" width="6.8" height="6.8"/><rect x="571.47" y="208.23" width="6.8" height="6.8"/><rect x="572.62" y="216.56" width="6.8" height="6.8"/><rect x="573.62" y="210.24" width="6.8" height="6.8"/><rect x="574.67" y="213.35" width="6.8" height="6.8"/><rect x="575.44" y="199.95" width="6.8" height="6.8"/><rect x="576.54" y="213.96" width="6.8" height="6.8"/><rect x="577.58" y="217.56" width="6.8" height="6.8"/><rect x="578.83" y="220.27" width="6.8" height="6.8"/><rect x="580.19" y="215.72" width="6.8" height="6.8"/><rect x="581.26" y="219.06" width="6.8" height="6.8"/><rect class="o" x="583" y="198.2" width="5.6" height="5.6"/><rect x="582.62" y="217.19" width="6.8" height="6.8"/><rect x="583.42" y="210.35" width="6.8" height="6.8"/><rect x="584.79" y="218.99" width="6.8" height="6.8"/><rect x="585.73" y="221.41" width="6.8" height="6.8"/><rect x="586.75" y="212.45" width="6.8" height="6.8"/><rect x="588.29" y="211.45" width="6.8" height="6.8"/><rect x="589.07" y="226.09" width="6.8" height="6.8"/><rect x="590.37" y="218.11" width="6.8" height="6.8"/><rect x="591.3" y="223.97" width="6.8" height="6.8"/><rect x="592.72" y="222.76" width="6.8" height="6.8"/><rect x="593.51" y="220.2" width="6.8" height="6.8"/><rect x="594.56" y="211.96" width="6.8" height="6.8"/></g>
<text x="585.5" y="236.94" font-size="8.2" class="p" fill="#ff2a3a" clip-path="url(#clip1)">-14.25%</text>
<path d="M417.8 280.28L617.3 295.5" stroke="#ff0000" stroke-width="1.3" stroke-dasharray="1.3 3.95 4.65 3.95" fill="none"/>
<path d="M417.8 284.08L617.3 299.3" stroke="#ff0000" stroke-width="1.3" stroke-dasharray="1.3 3.95 4.65 3.95" fill="none"/>
<path d="M414.1 281.9L617.8 297.4" stroke="#2a2a2a" stroke-width="1" fill="none"/>
<g fill="#008000"><path d="M422.59 267.56L426.44 274.26L418.74 274.26Z"/><path d="M424.19 269.28L428.04 275.98L420.34 275.98Z"/><path d="M425.56 282.83L429.41 289.53L421.71 289.53Z"/><path d="M426.04 291.83L429.89 298.53L422.19 298.53Z"/><path d="M427.28 287.11L431.13 293.81L423.43 293.81Z"/><path d="M428.49 279.44L432.34 286.14L424.64 286.14Z"/><path d="M430.07 288.45L433.92 295.15L426.22 295.15Z"/><path d="M430.92 274.08L434.77 280.78L427.07 280.78Z"/><path class="o" d="M431.3 310.5L433.85 315.3L428.75 315.3Z"/><path d="M431.95 284.43L435.8 291.13L428.1 291.13Z"/><path d="M433.23 296.24L437.08 302.94L429.38 302.94Z"/><path d="M434.3 276L438.15 282.7L430.45 282.7Z"/><path d="M435.45 283.93L439.3 290.63L431.6 290.63Z"/><path d="M436.83 267.45L440.68 274.15L432.98 274.15Z"/><path class="o" d="M437.1 310.2L439.65 315L434.55 315Z"/><path d="M438.06 293.88L441.91 300.58L434.21 300.58Z"/><path d="M438.91 275.59L442.76 282.29L435.06 282.29Z"/><path d="M440.28 263.47L444.13 270.17L436.43 270.17Z"/><path d="M441.05 274.74L444.9 281.44L437.2 281.44Z"/><path d="M442.9 285.14L446.75 291.84L439.05 291.84Z"/><path d="M443.41 262.37L447.26 269.07L439.56 269.07Z"/><path d="M444.9 295.31L448.75 302.01L441.05 302.01Z"/><path d="M446.38 283.25L450.23 289.95L442.53 289.95Z"/><path d="M447.03 281.36L450.88 288.06L443.18 288.06Z"/><path class="o" d="M448 312.4L450.55 317.2L445.45 317.2Z"/><path d="M448.16 296.09L452.01 302.79L444.31 302.79Z"/><path d="M449.65 291.77L453.5 298.47L445.8 298.47Z"/><path d="M450.6 267.05L454.45 273.75L446.75 273.75Z"/><path d="M451.61 290.21L455.46 296.91L447.76 296.91Z"/><path d="M452.99 298.04L456.84 304.74L449.14 304.74Z"/><path d="M454.33 278.05L458.18 284.75L450.48 284.75Z"/><path d="M455.36 279.2L459.21 285.9L451.51 285.9Z"/><path d="M456.2 276.19L460.05 282.89L452.35 282.89Z"/><path class="o" d="M457.4 253L459.95 257.8L454.85 257.8Z"/><path d="M457.67 290.95L461.52 297.65L453.82 297.65Z"/><path d="M459.02 279.64L462.87 286.34L455.17 286.34Z"/><path class="o" d="M459.6 305.1L462.15 309.9L457.05 309.9Z"/><path d="M459.63 278.58L463.48 285.28L455.78 285.28Z"/><path d="M461.12 263.17L464.97 269.87L457.27 269.87Z"/><path d="M462.16 295.9L466.01 302.6L458.31 302.6Z"/><path d="M463.43 294.99L467.28 301.69L459.58 301.69Z"/><path d="M464.2 275.87L468.05 282.57L460.35 282.57Z"/><path d="M465.42 282.65L469.27 289.35L461.57 289.35Z"/><path d="M466.66 288.5L470.51 295.2L462.81 295.2Z"/><path d="M468.18 281.27L472.03 287.97L464.33 287.97Z"/><path d="M469 275.74L472.85 282.44L465.15 282.44Z"/><path d="M470.12 278.88L473.97 285.58L466.27 285.58Z"/><path d="M471.57 274.1L475.42 280.8L467.72 280.8Z"/><path d="M472.28 295.33L476.13 302.03L468.43 302.03Z"/><path class="o" d="M472.4 265.9L474.95 270.7L469.85 270.7Z"/><path d="M473.56 299.43L477.41 306.13L469.71 306.13Z"/><path d="M474.89 296.36L478.74 303.06L471.04 303.06Z"/><path class="o" d="M475 322.4L477.55 327.2L472.45 327.2Z"/><path d="M475.89 288.41L479.74 295.11L472.04 295.11Z"/><path d="M477.23 286.71L481.08 293.41L473.38 293.41Z"/><path d="M478.38 294.28L482.23 300.98L474.53 300.98Z"/><path d="M479.2 289.75L483.05 296.45L475.35 296.45Z"/><path d="M480.35 291.62L484.2 298.32L476.5 298.32Z"/><path d="M481.98 277.74L485.83 284.44L478.13 284.44Z"/><path d="M482.86 274.9L486.71 281.6L479.01 281.6Z"/><path d="M483.82 293.12L487.67 299.82L479.97 299.82Z"/><path d="M484.92 277.79L488.77 284.49L481.07 284.49Z"/><path d="M486.32 297.74L490.17 304.44L482.47 304.44Z"/><path d="M487.79 296.03L491.64 302.73L483.94 302.73Z"/><path d="M488.47 279.14L492.32 285.84L484.62 285.84Z"/><path d="M490.21 290.34L494.06 297.04L486.36 297.04Z"/><path d="M490.65 286.49L494.5 293.19L486.8 293.19Z"/><path d="M492.22 283.67L496.07 290.37L488.37 290.37Z"/><path d="M493.45 301.12L497.3 307.82L489.6 307.82Z"/><path d="M494.48 286.29L498.33 292.99L490.63 292.99Z"/><path d="M495.44 289.01L499.29 295.71L491.59 295.71Z"/><path d="M496.63 294.08L500.48 300.78L492.78 300.78Z"/><path d="M497.96 266.41L501.81 273.11L494.11 273.11Z"/><path d="M499.36 280.88L503.21 287.58L495.51 287.58Z"/><path d="M500.17 280.9L504.02 287.6L496.32 287.6Z"/><path d="M501.27 269.17L505.12 275.87L497.42 275.87Z"/><path class="o" d="M501.4 314.1L503.95 318.9L498.85 318.9Z"/><path d="M502.46 291.86L506.31 298.56L498.61 298.56Z"/><path d="M504.06 281.11L507.91 287.81L500.21 287.81Z"/><path d="M504.67 291.21L508.52 297.91L500.82 297.91Z"/><path d="M505.75 268.32L509.6 275.02L501.9 275.02Z"/><path class="o" d="M506.5 247.2L509.05 252L503.95 252Z"/><path d="M507.44 302.07L511.29 308.77L503.59 308.77Z"/><path d="M508.03 267.13L511.88 273.83L504.18 273.83Z"/><path class="o" d="M509.7 248.2L512.25 253L507.15 253Z"/><path d="M509.71 276.47L513.56 283.17L505.86 283.17Z"/><path d="M510.7 277.58L514.55 284.28L506.85 284.28Z"/><path d="M512.1 297.18L515.95 303.88L508.25 303.88Z"/><path d="M512.78 290.07L516.63 296.77L508.93 296.77Z"/><path d="M514.33 284.24L518.18 290.94L510.48 290.94Z"/><path d="M514.92 276.61L518.77 283.31L511.07 283.31Z"/><path d="M516.58 297.13L520.43 303.83L512.73 303.83Z"/><path class="o" d="M517.4 321.4L519.95 326.2L514.85 326.2Z"/><path d="M517.4 268.93L521.25 275.63L513.55 275.63Z"/><path d="M518.65 277.02L522.5 283.72L514.8 283.72Z"/><path d="M520.06 297.49L523.91 304.19L516.21 304.19Z"/><path d="M521.09 283.15L524.94 289.85L517.24 289.85Z"/><path d="M522.11 276.67L525.96 283.37L518.26 283.37Z"/><path d="M523.14 294.61L526.99 301.31L519.29 301.31Z"/><path class="o" d="M523.2 255.3L525.75 260.1L520.65 260.1Z"/><path d="M524.64 281.63L528.49 288.33L520.79 288.33Z"/><path class="o" d="M525.1 258.5L527.65 263.3L522.55 263.3Z"/><path d="M525.58 279.47L529.43 286.17L521.73 286.17Z"/><path d="M526.57 284.22L530.42 290.92L522.72 290.92Z"/><path class="o" d="M527 307L529.55 311.8L524.45 311.8Z"/><path d="M527.83 293.08L531.68 299.78L523.98 299.78Z"/><path d="M529.28 273.75L533.13 280.45L525.43 280.45Z"/><path d="M529.89 292.43L533.74 299.13L526.04 299.13Z"/><path d="M531.24 286.65L535.09 293.35L527.39 293.35Z"/><path d="M532.69 285.35L536.54 292.05L528.84 292.05Z"/><path d="M533.76 299.57L537.61 306.27L529.91 306.27Z"/><path d="M534.79 298.26L538.64 304.96L530.94 304.96Z"/><path d="M535.73 283.02L539.58 289.72L531.88 289.72Z"/><path d="M536.81 277.74L540.66 284.44L532.96 284.44Z"/><path d="M538.22 293.43L542.07 300.13L534.37 300.13Z"/><path d="M539.59 285.64L543.44 292.34L535.74 292.34Z"/><path d="M540.43 281.79L544.28 288.49L536.58 288.49Z"/><path d="M542.05 298.89L545.9 305.59L538.2 305.59Z"/><path d="M543 273.39L546.85 280.09L539.15 280.09Z"/><path d="M544.03 280.01L547.88 286.71L540.18 286.71Z"/><path class="o" d="M544.7 317.3L547.25 322.1L542.15 322.1Z"/><path d="M545.4 300.78L549.25 307.48L541.55 307.48Z"/><path d="M546.22 288.99L550.07 295.69L542.37 295.69Z"/><path d="M547.81 299.34L551.66 306.04L543.96 306.04Z"/><path d="M548.58 278.68L552.43 285.38L544.73 285.38Z"/><path d="M549.46 299.99L553.31 306.69L545.61 306.69Z"/><path d="M551.33 280.87L555.18 287.57L547.48 287.57Z"/><path d="M552.13 301.43L555.98 308.13L548.28 308.13Z"/><path d="M553.59 297.09L557.44 303.79L549.74 303.79Z"/><path d="M554.16 295.6L558.01 302.3L550.31 302.3Z"/><path d="M555.38 282.33L559.23 289.03L551.53 289.03Z"/><path d="M556.74 295.79L560.59 302.49L552.89 302.49Z"/><path class="o" d="M557.6 261.1L560.15 265.9L555.05 265.9Z"/><path d="M558.19 307.82L562.04 314.52L554.34 314.52Z"/><path d="M558.76 293.33L562.61 300.03L554.91 300.03Z"/><path d="M560.24 307.23L564.09 313.93L556.39 313.93Z"/><path d="M561.55 279.69L565.4 286.39L557.7 286.39Z"/><path d="M562.44 274.33L566.29 281.03L558.59 281.03Z"/><path d="M563.63 272.52L567.48 279.22L559.78 279.22Z"/><path class="o" d="M564.6 264.9L567.15 269.7L562.05 269.7Z"/><path d="M565.14 302.17L568.99 308.87L561.29 308.87Z"/><path d="M566.01 272.56L569.86 279.26L562.16 279.26Z"/><path class="o" d="M567.2 264.3L569.75 269.1L564.65 269.1Z"/><path d="M567.27 295.17L571.12 301.87L563.42 301.87Z"/><path d="M568.41 298.07L572.26 304.77L564.56 304.77Z"/><path d="M569.73 281.1L573.58 287.8L565.88 287.8Z"/><path d="M570.48 303.02L574.33 309.72L566.63 309.72Z"/><path d="M571.78 296.75L575.63 303.45L567.93 303.45Z"/><path d="M572.69 308.97L576.54 315.67L568.84 315.67Z"/><path class="o" d="M572.7 269.7L575.25 274.5L570.15 274.5Z"/><path d="M573.93 305.45L577.78 312.15L570.08 312.15Z"/><path d="M575.44 283.3L579.29 290L571.59 290Z"/><path d="M576.7 295.52L580.55 302.22L572.85 302.22Z"/><path d="M577.39 290.62L581.24 297.32L573.54 297.32Z"/><path d="M578.86 299.28L582.71 305.98L575.01 305.98Z"/><path d="M579.85 295.84L583.7 302.54L576 302.54Z"/><path d="M581.12 293.52L584.97 300.22L577.27 300.22Z"/><path d="M582.03 302.95L585.88 309.65L578.18 309.65Z"/><path d="M583.17 294.19L587.02 300.89L579.32 300.89Z"/><path d="M584.22 303.44L588.07 310.14L580.37 310.14Z"/><path d="M585.59 294.03L589.44 300.73L581.74 300.73Z"/><path d="M586.41 291.47L590.26 298.17L582.56 298.17Z"/><path d="M588.16 306.33L592.01 313.03L584.31 313.03Z"/><path d="M588.86 306.8L592.71 313.5L585.01 313.5Z"/><path d="M590.3 310.83L594.15 317.53L586.45 317.53Z"/><path d="M591.36 302.6L595.21 309.3L587.51 309.3Z"/><path d="M592.4 291.22L596.25 297.92L588.55 297.92Z"/><path d="M593.99 296.82L597.84 303.52L590.14 303.52Z"/><path d="M595.07 296.46L598.92 303.16L591.22 303.16Z"/><path d="M596.14 279.09L599.99 285.79L592.29 285.79Z"/><path d="M596.84 293.64L600.69 300.34L592.99 300.34Z"/><path d="M598.25 292.93L602.1 299.63L594.4 299.63Z"/></g>
<text x="585.5" y="344.36" font-size="8.2" class="p" fill="#ff2a3a" clip-path="url(#clip1)">-56.44%</text>
<path d="M417.8 384.39L617.3 437.8" stroke="#ff0000" stroke-width="1.3" stroke-dasharray="1.3 3.95 4.65 3.95" fill="none"/>
<path d="M417.8 386.19L617.3 439.6" stroke="#ff0000" stroke-width="1.3" stroke-dasharray="1.3 3.95 4.65 3.95" fill="none"/>
<path d="M414.1 384.3L617.8 438.7" stroke="#2a2a2a" stroke-width="1" fill="none"/>
<g fill="#0000ff"><path d="M423 385.22L426.7 388.92L423 392.62L419.3 388.92Z"/><path d="M424.07 379.91L427.77 383.61L424.07 387.31L420.37 383.61Z"/><path d="M424.89 379.09L428.59 382.79L424.89 386.49L421.19 382.79Z"/><path d="M426.24 378.15L429.94 381.85L426.24 385.55L422.54 381.85Z"/><path d="M427.67 389.5L431.37 393.2L427.67 396.9L423.97 393.2Z"/><path d="M428.86 390.12L432.56 393.82L428.86 397.52L425.16 393.82Z"/><path d="M430.19 390.11L433.89 393.81L430.19 397.51L426.49 393.81Z"/><path d="M431 382.3L434.7 386L431 389.7L427.3 386Z"/><path d="M432.31 374.45L436.01 378.15L432.31 381.85L428.61 378.15Z"/><path d="M433.54 381.16L437.24 384.86L433.54 388.56L429.84 384.86Z"/><path d="M434.67 387.06L438.37 390.76L434.67 394.46L430.97 390.76Z"/><path d="M435.35 387.15L439.05 390.85L435.35 394.55L431.65 390.85Z"/><path d="M437.07 387.81L440.77 391.51L437.07 395.21L433.37 391.51Z"/><path d="M438.12 385.32L441.82 389.02L438.12 392.72L434.42 389.02Z"/><path d="M439.21 391.43L442.91 395.13L439.21 398.83L435.51 395.13Z"/><path d="M439.98 377.65L443.68 381.35L439.98 385.05L436.28 381.35Z"/><path d="M441.72 394.4L445.42 398.1L441.72 401.8L438.02 398.1Z"/><path d="M442.68 392.15L446.38 395.85L442.68 399.55L438.98 395.85Z"/><path d="M443.48 379.96L447.18 383.66L443.48 387.36L439.78 383.66Z"/><path d="M444.92 378.36L448.62 382.06L444.92 385.76L441.22 382.06Z"/><path d="M445.75 386.62L449.45 390.32L445.75 394.02L442.05 390.32Z"/><path d="M446.84 392.83L450.54 396.53L446.84 400.23L443.14 396.53Z"/><path d="M448.47 387.4L452.17 391.1L448.47 394.8L444.77 391.1Z"/><path d="M449.65 390.59L453.35 394.29L449.65 397.99L445.95 394.29Z"/><path d="M450.64 391.94L454.34 395.64L450.64 399.34L446.94 395.64Z"/><path d="M451.52 382.19L455.22 385.89L451.52 389.59L447.82 385.89Z"/><path d="M452.8 391.63L456.5 395.33L452.8 399.03L449.1 395.33Z"/><path d="M453.79 387.92L457.49 391.62L453.79 395.32L450.09 391.62Z"/><path d="M455.04 397.31L458.74 401.01L455.04 404.71L451.34 401.01Z"/><path d="M456.07 387.39L459.77 391.09L456.07 394.79L452.37 391.09Z"/><path d="M457.67 398.27L461.37 401.97L457.67 405.67L453.97 401.97Z"/><path d="M458.91 394.94L462.61 398.64L458.91 402.34L455.21 398.64Z"/><path d="M459.87 389.96L463.57 393.66L459.87 397.36L456.17 393.66Z"/><path class="o" d="M460.2 411.95L462.95 414.7L460.2 417.45L457.45 414.7Z"/><path d="M461.13 397.8L464.83 401.5L461.13 405.2L457.43 401.5Z"/><path d="M461.9 399.53L465.6 403.23L461.9 406.93L458.2 403.23Z"/><path d="M463.61 383.29L467.31 386.99L463.61 390.69L459.91 386.99Z"/><path d="M464.54 386.32L468.24 390.02L464.54 393.72L460.84 390.02Z"/><path d="M465.34 382.23L469.04 385.93L465.34 389.63L461.64 385.93Z"/><path d="M466.8 393.8L470.5 397.5L466.8 401.2L463.1 397.5Z"/><path d="M467.9 381.83L471.6 385.53L467.9 389.23L464.2 385.53Z"/><path d="M469.35 405.04L473.05 408.74L469.35 412.44L465.65 408.74Z"/><path d="M470.42 387.4L474.12 391.1L470.42 394.8L466.72 391.1Z"/><path d="M471.09 384.71L474.79 388.41L471.09 392.11L467.39 388.41Z"/><path d="M472.65 397.28L476.35 400.98L472.65 404.68L468.95 400.98Z"/><path d="M473.37 402.46L477.07 406.16L473.37 409.86L469.67 406.16Z"/><path d="M474.85 388.76L478.55 392.46L474.85 396.16L471.15 392.46Z"/><path d="M476.25 394.95L479.95 398.65L476.25 402.35L472.55 398.65Z"/><path class="o" d="M476.9 381.35L479.65 384.1L476.9 386.85L474.15 384.1Z"/><path d="M476.93 404.04L480.63 407.74L476.93 411.44L473.23 407.74Z"/><path d="M478.42 391.13L482.12 394.83L478.42 398.53L474.72 394.83Z"/><path d="M479.39 400.85L483.09 404.55L479.39 408.25L475.69 404.55Z"/><path d="M480.33 386.05L484.03 389.75L480.33 393.45L476.63 389.75Z"/><path d="M482.06 397.18L485.76 400.88L482.06 404.58L478.36 400.88Z"/><path d="M483.09 393.09L486.79 396.79L483.09 400.49L479.39 396.79Z"/><path d="M483.91 394.18L487.61 397.88L483.91 401.58L480.21 397.88Z"/><path class="o" d="M484.3 379.15L487.05 381.9L484.3 384.65L481.55 381.9Z"/><path d="M485.01 402.23L488.71 405.93L485.01 409.63L481.31 405.93Z"/><path d="M486.28 405.28L489.98 408.98L486.28 412.68L482.58 408.98Z"/><path d="M487.7 388.8L491.4 392.5L487.7 396.2L484 392.5Z"/><path d="M489 401.69L492.7 405.39L489 409.09L485.3 405.39Z"/><path class="o" d="M489.1 383.95L491.85 386.7L489.1 389.45L486.35 386.7Z"/><path d="M489.86 397.56L493.56 401.26L489.86 404.96L486.16 401.26Z"/><path d="M490.63 406.91L494.33 410.61L490.63 414.31L486.93 410.61Z"/><path d="M491.79 395.13L495.49 398.83L491.79 402.53L488.09 398.83Z"/><path d="M493.12 395.37L496.82 399.07L493.12 402.77L489.42 399.07Z"/><path d="M494.67 405.62L498.37 409.32L494.67 413.02L490.97 409.32Z"/><path d="M495.37 397.83L499.07 401.53L495.37 405.23L491.67 401.53Z"/><path class="o" d="M496.5 387.15L499.25 389.9L496.5 392.65L493.75 389.9Z"/><path d="M496.82 408.03L500.52 411.73L496.82 415.43L493.12 411.73Z"/><path d="M497.57 399.16L501.27 402.86L497.57 406.56L493.87 402.86Z"/><path d="M498.94 407.04L502.64 410.74L498.94 414.44L495.24 410.74Z"/><path d="M500.35 406.69L504.05 410.39L500.35 414.09L496.65 410.39Z"/><path class="o" d="M501.4 419.25L504.15 422L501.4 424.75L498.65 422Z"/><path d="M501.51 403.25L505.21 406.95L501.51 410.65L497.81 406.95Z"/><path d="M502.18 408.05L505.88 411.75L502.18 415.45L498.48 411.75Z"/><path d="M503.45 405.76L507.15 409.46L503.45 413.16L499.75 409.46Z"/><path d="M504.64 398.89L508.34 402.59L504.64 406.29L500.94 402.59Z"/><path d="M505.82 401.56L509.52 405.26L505.82 408.96L502.12 405.26Z"/><path d="M507.04 413.63L510.74 417.33L507.04 421.03L503.34 417.33Z"/><path d="M508.51 411.3L512.21 415L508.51 418.7L504.81 415Z"/><path d="M509.16 401.89L512.86 405.59L509.16 409.29L505.46 405.59Z"/><path d="M510.41 411.94L514.11 415.64L510.41 419.34L506.71 415.64Z"/><path d="M511.75 408.86L515.45 412.56L511.75 416.26L508.05 412.56Z"/><path d="M513.12 415.38L516.82 419.08L513.12 422.78L509.42 419.08Z"/><path d="M514.27 412.88L517.97 416.58L514.27 420.28L510.57 416.58Z"/><path d="M514.93 403.32L518.63 407.02L514.93 410.72L511.23 407.02Z"/><path d="M516.4 401.6L520.1 405.3L516.4 409L512.7 405.3Z"/><path d="M517.64 398.59L521.34 402.29L517.64 405.99L513.94 402.29Z"/><path d="M518.64 411.21L522.34 414.91L518.64 418.61L514.94 414.91Z"/><path d="M520.1 412.85L523.8 416.55L520.1 420.25L516.4 416.55Z"/><path d="M520.7 407.84L524.4 411.54L520.7 415.24L517 411.54Z"/><path class="o" d="M520.9 426.05L523.65 428.8L520.9 431.55L518.15 428.8Z"/><path d="M522.19 405.83L525.89 409.53L522.19 413.23L518.49 409.53Z"/><path d="M523.46 419.1L527.16 422.8L523.46 426.5L519.76 422.8Z"/><path class="o" d="M524.2 431.45L526.95 434.2L524.2 436.95L521.45 434.2Z"/><path d="M524.81 413.69L528.51 417.39L524.81 421.09L521.11 417.39Z"/><path d="M525.24 406.62L528.94 410.32L525.24 414.02L521.54 410.32Z"/><path d="M526.92 403.9L530.62 407.6L526.92 411.3L523.22 407.6Z"/><path class="o" d="M527 399.05L529.75 401.8L527 404.55L524.25 401.8Z"/><path d="M527.79 404.65L531.49 408.35L527.79 412.05L524.09 408.35Z"/><path d="M529.25 412.42L532.95 416.12L529.25 419.82L525.55 416.12Z"/><path d="M530.24 404.76L533.94 408.46L530.24 412.16L526.54 408.46Z"/><path d="M531.58 410.28L535.28 413.98L531.58 417.68L527.88 413.98Z"/><path d="M532.28 409.22L535.98 412.92L532.28 416.62L528.58 412.92Z"/><path d="M533.98 411.79L537.68 415.49L533.98 419.19L530.28 415.49Z"/><path d="M534.75 419.32L538.45 423.02L534.75 426.72L531.05 423.02Z"/><path d="M536.21 404.65L539.91 408.35L536.21 412.05L532.51 408.35Z"/><path d="M536.99 408.73L540.69 412.43L536.99 416.13L533.29 412.43Z"/><path class="o" d="M537.3 392.95L540.05 395.7L537.3 398.45L534.55 395.7Z"/><path d="M538.02 412.03L541.72 415.73L538.02 419.43L534.32 415.73Z"/><path class="o" d="M538.3 428.65L541.05 431.4L538.3 434.15L535.55 431.4Z"/><path d="M539.33 417.01L543.03 420.71L539.33 424.41L535.63 420.71Z"/><path d="M540.73 411.71L544.43 415.41L540.73 419.11L537.03 415.41Z"/><path d="M542.06 421.47L545.76 425.17L542.06 428.87L538.36 425.17Z"/><path d="M542.91 414.99L546.61 418.69L542.91 422.39L539.21 418.69Z"/><path d="M543.94 422.9L547.64 426.6L543.94 430.3L540.24 426.6Z"/><path d="M545.53 423.24L549.23 426.94L545.53 430.64L541.83 426.94Z"/><path d="M546.55 414.63L550.25 418.33L546.55 422.03L542.85 418.33Z"/><path d="M547.49 421.67L551.19 425.37L547.49 429.07L543.79 425.37Z"/><path d="M548.79 421.82L552.49 425.52L548.79 429.22L545.09 425.52Z"/><path d="M549.65 423.62L553.35 427.32L549.65 431.02L545.95 427.32Z"/><path d="M550.98 412.45L554.68 416.15L550.98 419.85L547.28 416.15Z"/><path d="M552.06 407.71L555.76 411.41L552.06 415.11L548.36 411.41Z"/><path d="M553.1 426.21L556.8 429.91L553.1 433.61L549.4 429.91Z"/><path d="M554.14 407.88L557.84 411.58L554.14 415.28L550.44 411.58Z"/><path d="M555.4 418.36L559.1 422.06L555.4 425.76L551.7 422.06Z"/><path d="M556.97 432.78L560.67 436.48L556.97 440.18L553.27 436.48Z"/><path d="M558.1 420.27L561.8 423.97L558.1 427.67L554.4 423.97Z"/><path d="M559.01 425.12L562.71 428.82L559.01 432.52L555.31 428.82Z"/><path d="M560.49 414.91L564.19 418.61L560.49 422.31L556.79 418.61Z"/><path d="M561.11 426.97L564.81 430.67L561.11 434.37L557.41 430.67Z"/><path d="M562.69 419.04L566.39 422.74L562.69 426.44L558.99 422.74Z"/><path d="M563.86 426.7L567.56 430.4L563.86 434.1L560.16 430.4Z"/><path d="M564.51 415.7L568.21 419.4L564.51 423.1L560.81 419.4Z"/><path d="M566.25 418.79L569.95 422.49L566.25 426.19L562.55 422.49Z"/><path d="M567.33 422.31L571.03 426.01L567.33 429.71L563.63 426.01Z"/><path d="M568.26 416.28L571.96 419.98L568.26 423.68L564.56 419.98Z"/><path d="M569.43 419.34L573.13 423.04L569.43 426.74L565.73 423.04Z"/><path class="o" d="M570.4 408.05L573.15 410.8L570.4 413.55L567.65 410.8Z"/><path d="M570.65 419.43L574.35 423.13L570.65 426.83L566.95 423.13Z"/><path d="M571.73 415.77L575.43 419.47L571.73 423.17L568.03 419.47Z"/><path d="M572.57 430.96L576.27 434.66L572.57 438.36L568.87 434.66Z"/><path d="M574 421.93L577.7 425.63L574 429.33L570.3 425.63Z"/><path d="M575.48 422.32L579.18 426.02L575.48 429.72L571.78 426.02Z"/><path d="M576.39 409.06L580.09 412.76L576.39 416.46L572.69 412.76Z"/><path d="M577.33 417.64L581.03 421.34L577.33 425.04L573.63 421.34Z"/><path d="M578.97 418.42L582.67 422.12L578.97 425.82L575.27 422.12Z"/><path d="M579.77 419.42L583.47 423.12L579.77 426.82L576.07 423.12Z"/><path class="o" d="M580 444.35L582.75 447.1L580 449.85L577.25 447.1Z"/><path d="M580.74 424.49L584.44 428.19L580.74 431.89L577.04 428.19Z"/><path d="M582.2 432.96L585.9 436.66L582.2 440.36L578.5 436.66Z"/><path d="M583.04 417.56L586.74 421.26L583.04 424.96L579.34 421.26Z"/><path class="o" d="M584.2 441.75L586.95 444.5L584.2 447.25L581.45 444.5Z"/><path d="M584.53 421.1L588.23 424.8L584.53 428.5L580.83 424.8Z"/><path class="o" d="M585.5 409.05L588.25 411.8L585.5 414.55L582.75 411.8Z"/><path d="M585.72 434.53L589.42 438.23L585.72 441.93L582.02 438.23Z"/><path d="M586.52 428.29L590.22 431.99L586.52 435.69L582.82 431.99Z"/><path d="M587.76 433.78L591.46 437.48L587.76 441.18L584.06 437.48Z"/><path class="o" d="M589 447.85L591.75 450.6L589 453.35L586.25 450.6Z"/><path d="M589.11 422.41L592.81 426.11L589.11 429.81L585.41 426.11Z"/><path d="M590 434.75L593.7 438.45L590 442.15L586.3 438.45Z"/><path d="M591.59 430.2L595.29 433.9L591.59 437.6L587.89 433.9Z"/><path class="o" d="M591.6 413.85L594.35 416.6L591.6 419.35L588.85 416.6Z"/><path d="M592.68 433.72L596.38 437.42L592.68 441.12L588.98 437.42Z"/><path d="M593.42 426.78L597.12 430.48L593.42 434.18L589.72 430.48Z"/><path d="M594.88 434.43L598.58 438.13L594.88 441.83L591.18 438.13Z"/><path d="M596.02 428.22L599.72 431.92L596.02 435.62L592.32 431.92Z"/><path d="M597.03 431.27L600.73 434.97L597.03 438.67L593.33 434.97Z"/><path class="o" d="M597.1 410.65L599.85 413.4L597.1 416.15L594.35 413.4Z"/><path class="o" d="M597.7 448.85L600.45 451.6L597.7 454.35L594.95 451.6Z"/><path d="M598.39 433.81L602.09 437.51L598.39 441.21L594.69 437.51Z"/></g>
<text x="585.5" y="451.78" font-size="8.2" class="p" fill="#ff2a3a" clip-path="url(#clip1)">-16.62%</text>
<path d="M417.8 507.43L617.3 536" stroke="#ff0000" stroke-width="1.3" stroke-dasharray="1.3 3.95 4.65 3.95" fill="none"/>
<path d="M417.8 511.03L617.3 539.6" stroke="#ff0000" stroke-width="1.3" stroke-dasharray="1.3 3.95 4.65 3.95" fill="none"/>
<path d="M414.1 508.7L617.8 537.8" stroke="#2a2a2a" stroke-width="1" fill="none"/>
<g fill="#ff8000"><path d="M422.65 520.42L426.6 513.62L418.7 513.62Z"/><path d="M424.15 511.44L428.1 504.64L420.2 504.64Z"/><path d="M425.47 527.74L429.42 520.94L421.52 520.94Z"/><path d="M426.03 510.91L429.98 504.11L422.08 504.11Z"/><path d="M427.62 515.68L431.57 508.88L423.67 508.88Z"/><path class="o" d="M428.1 488.3L430.65 483.5L425.55 483.5Z"/><path d="M428.72 519.07L432.67 512.27L424.77 512.27Z"/><path d="M429.73 510.53L433.68 503.73L425.78 503.73Z"/><path d="M430.56 528.31L434.51 521.51L426.61 521.51Z"/><path d="M431.61 509.4L435.56 502.6L427.66 502.6Z"/><path d="M432.64 517.51L436.59 510.71L428.69 510.71Z"/><path d="M434.04 518.76L437.99 511.96L430.09 511.96Z"/><path d="M434.66 526.29L438.61 519.49L430.71 519.49Z"/><path d="M436.03 527.56L439.98 520.76L432.08 520.76Z"/><path d="M437.13 507.63L441.08 500.83L433.18 500.83Z"/><path d="M438.5 518.66L442.45 511.86L434.55 511.86Z"/><path d="M439.58 514.62L443.53 507.82L435.63 507.82Z"/><path d="M440.35 502.98L444.3 496.18L436.4 496.18Z"/><path d="M441.53 506.95L445.48 500.15L437.58 500.15Z"/><path d="M442.7 529.41L446.65 522.61L438.75 522.61Z"/><path d="M443.66 519.51L447.61 512.71L439.71 512.71Z"/><path d="M444.56 520.66L448.51 513.86L440.61 513.86Z"/><path d="M445.56 511.48L449.51 504.68L441.61 504.68Z"/><path d="M446.95 505.78L450.9 498.98L443 498.98Z"/><path d="M447.94 504.39L451.89 497.59L443.99 497.59Z"/><path d="M448.91 529.58L452.86 522.78L444.96 522.78Z"/><path d="M450.05 536.23L454 529.43L446.1 529.43Z"/><path d="M450.92 515.31L454.87 508.51L446.97 508.51Z"/><path d="M452.39 511.34L456.34 504.54L448.44 504.54Z"/><path d="M453.12 513.48L457.07 506.68L449.17 506.68Z"/><path d="M454.23 522.97L458.18 516.17L450.28 516.17Z"/><path d="M455.81 503.38L459.76 496.58L451.86 496.58Z"/><path d="M456.41 515.48L460.36 508.68L452.46 508.68Z"/><path d="M457.94 523.95L461.89 517.15L453.99 517.15Z"/><path d="M458.87 516.66L462.82 509.86L454.92 509.86Z"/><path d="M459.78 528.91L463.73 522.11L455.83 522.11Z"/><path d="M461.11 499.97L465.06 493.17L457.16 493.17Z"/><path d="M462.16 508.15L466.11 501.35L458.21 501.35Z"/><path d="M463.54 507.12L467.49 500.32L459.59 500.32Z"/><path d="M464.67 528.33L468.62 521.53L460.72 521.53Z"/><path d="M465.39 501.88L469.34 495.08L461.44 495.08Z"/><path d="M466.4 522.33L470.35 515.53L462.45 515.53Z"/><path d="M467.65 528.52L471.6 521.72L463.7 521.72Z"/><path d="M468.39 528.25L472.34 521.45L464.44 521.45Z"/><path d="M469.79 518.79L473.74 511.99L465.84 511.99Z"/><path d="M470.56 517.08L474.51 510.28L466.61 510.28Z"/><path d="M471.78 529.4L475.73 522.6L467.83 522.6Z"/><path d="M473.23 521.39L477.18 514.59L469.28 514.59Z"/><path d="M474.32 519.02L478.27 512.22L470.37 512.22Z"/><path d="M475.2 520.07L479.15 513.27L471.25 513.27Z"/><path class="o" d="M476.3 496L478.85 491.2L473.75 491.2Z"/><path d="M476.65 518.66L480.6 511.86L472.7 511.86Z"/><path d="M477.14 530.69L481.09 523.89L473.19 523.89Z"/><path d="M478.34 537.72L482.29 530.92L474.39 530.92Z"/><path class="o" d="M479.5 500.2L482.05 495.4L476.95 495.4Z"/><path d="M479.64 526.39L483.59 519.59L475.69 519.59Z"/><path d="M480.62 527.59L484.57 520.79L476.67 520.79Z"/><path d="M481.86 526.68L485.81 519.88L477.91 519.88Z"/><path d="M482.54 530.72L486.49 523.92L478.59 523.92Z"/><path class="o" d="M482.7 549L485.25 544.2L480.15 544.2Z"/><path d="M484.09 525.9L488.04 519.1L480.14 519.1Z"/><path d="M484.77 521.84L488.72 515.04L480.82 515.04Z"/><path class="o" d="M485.9 496.3L488.45 491.5L483.35 491.5Z"/><path d="M485.94 531.46L489.89 524.66L481.99 524.66Z"/><path d="M486.96 507.68L490.91 500.88L483.01 500.88Z"/><path class="o" d="M487.9 540.3L490.45 535.5L485.35 535.5Z"/><path d="M488.45 515.81L492.4 509.01L484.5 509.01Z"/><path d="M489.03 509.3L492.98 502.5L485.08 502.5Z"/><path d="M490.81 512.05L494.76 505.25L486.86 505.25Z"/><path d="M491.46 526.56L495.41 519.76L487.51 519.76Z"/><path d="M492.44 513.89L496.39 507.09L488.49 507.09Z"/><path d="M493.6 515.53L497.55 508.73L489.65 508.73Z"/><path d="M494.81 525.8L498.76 519L490.86 519Z"/><path d="M495.71 513.74L499.66 506.94L491.76 506.94Z"/><path d="M497.19 516.55L501.14 509.75L493.24 509.75Z"/><path d="M498.27 539.44L502.22 532.64L494.32 532.64Z"/><path class="o" d="M498.5 548.3L501.05 543.5L495.95 543.5Z"/><path d="M499.27 531L503.22 524.2L495.32 524.2Z"/><path d="M500.56 527.8L504.51 521L496.61 521Z"/><path d="M501.52 507.29L505.47 500.49L497.57 500.49Z"/><path d="M502.19 526.87L506.14 520.07L498.24 520.07Z"/><path d="M503.36 511.36L507.31 504.56L499.41 504.56Z"/><path class="o" d="M503.9 550L506.45 545.2L501.35 545.2Z"/><path d="M504.6 510.44L508.55 503.64L500.65 503.64Z"/><path d="M505.57 505.33L509.52 498.53L501.62 498.53Z"/><path d="M506.72 516.97L510.67 510.17L502.77 510.17Z"/><path d="M507.87 516.27L511.82 509.47L503.92 509.47Z"/><path d="M509.18 514.8L513.13 508L505.23 508Z"/><path d="M510.1 533.31L514.05 526.51L506.15 526.51Z"/><path d="M511.4 516.35L515.35 509.55L507.45 509.55Z"/><path d="M512.32 525.29L516.27 518.49L508.37 518.49Z"/><path d="M512.97 520.62L516.92 513.82L509.02 513.82Z"/><path d="M514.78 508.75L518.73 501.95L510.83 501.95Z"/><path d="M515.25 522.52L519.2 515.72L511.3 515.72Z"/><path d="M516.52 514.59L520.47 507.79L512.57 507.79Z"/><path d="M517.33 529.41L521.28 522.61L513.38 522.61Z"/><path d="M518.8 539.55L522.75 532.75L514.85 532.75Z"/><path d="M520 518.48L523.95 511.68L516.05 511.68Z"/><path d="M520.8 529.65L524.75 522.85L516.85 522.85Z"/><path d="M522.36 517.32L526.31 510.52L518.41 510.52Z"/><path d="M522.88 524.81L526.83 518.01L518.93 518.01Z"/><path d="M524.55 526.34L528.5 519.54L520.6 519.54Z"/><path d="M525.52 540.73L529.47 533.93L521.57 533.93Z"/><path d="M526.14 544.7L530.09 537.9L522.19 537.9Z"/><path d="M527.2 529.71L531.15 522.91L523.25 522.91Z"/><path d="M528.26 522.58L532.21 515.78L524.31 515.78Z"/><path class="o" d="M529.6 479.3L532.15 474.5L527.05 474.5Z"/><path d="M529.72 531.02L533.67 524.22L525.77 524.22Z"/><path d="M530.57 542.58L534.52 535.78L526.62 535.78Z"/><path class="o" d="M531.5 559.6L534.05 554.8L528.95 554.8Z"/><path d="M532.19 513.41L536.14 506.61L528.24 506.61Z"/><path d="M532.65 517.44L536.6 510.64L528.7 510.64Z"/><path d="M534.25 544.76L538.2 537.96L530.3 537.96Z"/><path d="M535.02 537.02L538.97 530.22L531.07 530.22Z"/><path d="M535.84 530.81L539.79 524.01L531.89 524.01Z"/><path d="M537.46 522.84L541.41 516.04L533.51 516.04Z"/><path d="M538.44 529.92L542.39 523.12L534.49 523.12Z"/><path d="M539.27 544.12L543.22 537.32L535.32 537.32Z"/><path d="M540.45 520.25L544.4 513.45L536.5 513.45Z"/><path d="M541.39 541.24L545.34 534.44L537.44 534.44Z"/><path d="M542.47 545.89L546.42 539.09L538.52 539.09Z"/><path d="M543.88 539.34L547.83 532.54L539.93 532.54Z"/><path d="M544.94 521.46L548.89 514.66L540.99 514.66Z"/><path d="M545.78 546.26L549.73 539.46L541.83 539.46Z"/><path d="M546.94 527.96L550.89 521.16L542.99 521.16Z"/><path d="M548.55 534.29L552.5 527.49L544.6 527.49Z"/><path d="M549.16 533.23L553.11 526.43L545.21 526.43Z"/><path d="M550.35 524.2L554.3 517.4L546.4 517.4Z"/><path d="M551.2 536.86L555.15 530.06L547.25 530.06Z"/><path d="M552.19 536.31L556.14 529.51L548.24 529.51Z"/><path d="M553.71 536L557.66 529.2L549.76 529.2Z"/><path d="M554.52 521.84L558.47 515.04L550.57 515.04Z"/><path d="M555.98 516.36L559.93 509.56L552.03 509.56Z"/><path d="M556.7 533.49L560.65 526.69L552.75 526.69Z"/><path d="M557.89 529.3L561.84 522.5L553.94 522.5Z"/><path d="M559.18 546.17L563.13 539.37L555.23 539.37Z"/><path d="M560.3 524.82L564.25 518.02L556.35 518.02Z"/><path d="M561.13 538.05L565.08 531.25L557.18 531.25Z"/><path d="M562.51 537.32L566.46 530.52L558.56 530.52Z"/><path d="M563.47 528.03L567.42 521.23L559.52 521.23Z"/><path d="M564.75 528.16L568.7 521.36L560.8 521.36Z"/><path d="M565.8 528.78L569.75 521.98L561.85 521.98Z"/><path d="M566.93 529.57L570.88 522.77L562.98 522.77Z"/><path d="M567.61 524.72L571.56 517.92L563.66 517.92Z"/><path d="M568.56 548.97L572.51 542.17L564.61 542.17Z"/><path d="M569.6 537.92L573.55 531.12L565.65 531.12Z"/><path d="M570.93 542.63L574.88 535.83L566.98 535.83Z"/><path d="M572.08 526.02L576.03 519.22L568.13 519.22Z"/><path d="M573.06 540.16L577.01 533.36L569.11 533.36Z"/><path d="M574.07 531.45L578.02 524.65L570.12 524.65Z"/><path d="M575.35 526.16L579.3 519.36L571.4 519.36Z"/><path d="M576.35 544.51L580.3 537.71L572.4 537.71Z"/><path d="M577.24 539.99L581.19 533.19L573.29 533.19Z"/><path d="M578.92 533.16L582.87 526.36L574.97 526.36Z"/><path d="M579.78 531.02L583.73 524.22L575.83 524.22Z"/><path d="M580.61 527.35L584.56 520.55L576.66 520.55Z"/><path d="M581.82 527.06L585.77 520.26L577.87 520.26Z"/><path d="M583.09 535.77L587.04 528.97L579.14 528.97Z"/><path d="M583.82 547.88L587.77 541.08L579.87 541.08Z"/><path d="M585.22 547.96L589.17 541.16L581.27 541.16Z"/><path d="M586.47 536.67L590.42 529.87L582.52 529.87Z"/><path d="M587.14 532.74L591.09 525.94L583.19 525.94Z"/><path d="M588.48 533.99L592.43 527.19L584.53 527.19Z"/><path d="M589.86 541.4L593.81 534.6L585.91 534.6Z"/><path d="M590.8 550.64L594.75 543.84L586.85 543.84Z"/><path d="M591.7 544.16L595.65 537.36L587.75 537.36Z"/><path d="M592.48 535.01L596.43 528.21L588.53 528.21Z"/><path d="M594.24 538.21L598.19 531.41L590.29 531.41Z"/><path d="M595.36 538.27L599.31 531.47L591.41 531.47Z"/><path d="M596.31 552.92L600.26 546.12L592.36 546.12Z"/><path d="M596.99 546.36L600.94 539.56L593.04 539.56Z"/><path d="M598.34 539.63L602.29 532.83L594.39 532.83Z"/></g>
<text x="585.5" y="559.2" font-size="8.2" class="p" fill="#ff2a3a" clip-path="url(#clip1)">-11.93%</text>
<path d="M414.1 21.9V569" stroke="#1a1a1a" stroke-width="1.3" fill="none"/>
<path d="M617.8 21.9V569" stroke="#1a1a1a" stroke-width="1.6" fill="none"/>
<path d="M409.1 26.9H622.8" stroke="#1a1a1a" stroke-width="0.9" fill="none"/>
<path d="M409.1 134.32H622.8" stroke="#1a1a1a" stroke-width="1.35" fill="none"/>
<path d="M409.1 241.74H622.8" stroke="#1a1a1a" stroke-width="1.5" fill="none"/>
<path d="M409.1 349.16H622.8" stroke="#1a1a1a" stroke-width="1.6" fill="none"/>
<path d="M409.1 456.58H622.8" stroke="#1a1a1a" stroke-width="1.6" fill="none"/>
<path d="M409.1 564H622.8" stroke="#1a1a1a" stroke-width="1.75" fill="none"/>
<path d="M414.1 26.9v-5.2M432.52 26.9v-3.3M450.94 26.9v-3.3M469.35 26.9v-3.3M487.77 26.9v-5.2M506.19 26.9v-3.3M524.61 26.9v-3.3M543.02 26.9v-3.3M561.44 26.9v-5.2M579.86 26.9v-3.3M598.28 26.9v-3.3M616.69 26.9v-3.3M414.1 134.32v5.2M432.52 134.32v3.3M450.94 134.32v3.3M469.35 134.32v3.3M487.77 134.32v5.2M506.19 134.32v3.3M524.61 134.32v3.3M543.02 134.32v3.3M561.44 134.32v5.2M579.86 134.32v3.3M598.28 134.32v3.3M616.69 134.32v3.3M414.1 241.74v5.2M432.52 241.74v3.3M450.94 241.74v3.3M469.35 241.74v3.3M487.77 241.74v5.2M506.19 241.74v3.3M524.61 241.74v3.3M543.02 241.74v3.3M561.44 241.74v5.2M579.86 241.74v3.3M598.28 241.74v3.3M616.69 241.74v3.3M414.1 349.16v5.2M432.52 349.16v3.3M450.94 349.16v3.3M469.35 349.16v3.3M487.77 349.16v5.2M506.19 349.16v3.3M524.61 349.16v3.3M543.02 349.16v3.3M561.44 349.16v5.2M579.86 349.16v3.3M598.28 349.16v3.3M616.69 349.16v3.3M414.1 456.58v5.2M432.52 456.58v3.3M450.94 456.58v3.3M469.35 456.58v3.3M487.77 456.58v5.2M506.19 456.58v3.3M524.61 456.58v3.3M543.02 456.58v3.3M561.44 456.58v5.2M579.86 456.58v3.3M598.28 456.58v3.3M616.69 456.58v3.3M414.1 564v5.2M432.52 564v3.3M450.94 564v3.3M469.35 564v3.3M487.77 564v5.2M506.19 564v3.3M524.61 564v3.3M543.02 564v3.3M561.44 564v5.2M579.86 564v3.3M598.28 564v3.3M616.69 564v3.3" stroke="#1a1a1a" stroke-width="1.2" fill="none"/>
<text x="405.8" y="138.62" font-size="12" letter-spacing="-0.4" text-anchor="end" fill="#1a1a1a">125</text>
<text x="405.8" y="111.76" font-size="12" letter-spacing="-0.4" text-anchor="end" fill="#1a1a1a">130</text>
<text x="405.8" y="84.91" font-size="12" letter-spacing="-0.4" text-anchor="end" fill="#1a1a1a">135</text>
<text x="405.8" y="58.05" font-size="12" letter-spacing="-0.4" text-anchor="end" fill="#1a1a1a">140</text>
<text x="405.8" y="31.2" font-size="12" letter-spacing="-0.4" text-anchor="end" fill="#1a1a1a">145</text>
<text transform="translate(359.1 80.61) rotate(-90)" font-size="14.5" text-anchor="middle" fill="#1a1a1a">Ar40</text>
<text x="625.8" y="246.04" font-size="12" letter-spacing="-0.4" text-anchor="start" fill="#1a1a1a">18</text>
<text x="625.8" y="224.56" font-size="12" letter-spacing="-0.4" text-anchor="start" fill="#1a1a1a">19</text>
<text x="625.8" y="203.07" font-size="12" letter-spacing="-0.4" text-anchor="start" fill="#1a1a1a">20</text>
<text x="625.8" y="181.59" font-size="12" letter-spacing="-0.4" text-anchor="start" fill="#1a1a1a">21</text>
<text x="625.8" y="160.1" font-size="12" letter-spacing="-0.4" text-anchor="start" fill="#1a1a1a">22</text>
<text x="625.8" y="138.62" font-size="12" letter-spacing="-0.4" text-anchor="start" fill="#1a1a1a">23</text>
<text transform="translate(672.3 188.03) rotate(90)" font-size="14.5" text-anchor="middle" fill="#1a1a1a">Ar39</text>
<text x="405.8" y="353.46" font-size="12" letter-spacing="-0.4" text-anchor="end" fill="#1a1a1a">-1.0</text>
<text x="405.8" y="331.98" font-size="12" letter-spacing="-0.4" text-anchor="end" fill="#1a1a1a">-0.5</text>
<text x="405.8" y="310.49" font-size="12" letter-spacing="-0.4" text-anchor="end" fill="#1a1a1a">0</text>
<text x="405.8" y="289.01" font-size="12" letter-spacing="-0.4" text-anchor="end" fill="#1a1a1a">0.5</text>
<text x="405.8" y="267.52" font-size="12" letter-spacing="-0.4" text-anchor="end" fill="#1a1a1a">1.0</text>
<text x="405.8" y="246.04" font-size="12" letter-spacing="-0.4" text-anchor="end" fill="#1a1a1a">1.5</text>
<text transform="translate(359.1 295.45) rotate(-90)" font-size="14.5" text-anchor="middle" fill="#1a1a1a">Ar38</text>
<text x="625.8" y="460.88" font-size="12" letter-spacing="-0.4" text-anchor="start" fill="#1a1a1a">8</text>
<text x="625.8" y="434.02" font-size="12" letter-spacing="-0.4" text-anchor="start" fill="#1a1a1a">9</text>
<text x="625.8" y="407.17" font-size="12" letter-spacing="-0.4" text-anchor="start" fill="#1a1a1a">10</text>
<text x="625.8" y="380.31" font-size="12" letter-spacing="-0.4" text-anchor="start" fill="#1a1a1a">11</text>
<text x="625.8" y="353.46" font-size="12" letter-spacing="-0.4" text-anchor="start" fill="#1a1a1a">12</text>
<text transform="translate(672.3 402.87) rotate(90)" font-size="14.5" text-anchor="middle" fill="#1a1a1a">Ar37</text>
<text x="405.8" y="568.3" font-size="12" letter-spacing="-0.4" text-anchor="end" fill="#1a1a1a">0.30</text>
<text x="405.8" y="541.44" font-size="12" letter-spacing="-0.4" text-anchor="end" fill="#1a1a1a">0.35</text>
<text x="405.8" y="514.59" font-size="12" letter-spacing="-0.4" text-anchor="end" fill="#1a1a1a">0.40</text>
<text x="405.8" y="487.74" font-size="12" letter-spacing="-0.4" text-anchor="end" fill="#1a1a1a">0.45</text>
<text x="405.8" y="460.88" font-size="12" letter-spacing="-0.4" text-anchor="end" fill="#1a1a1a">0.50</text>
<text transform="translate(359.1 510.29) rotate(-90)" font-size="14.5" text-anchor="middle" fill="#1a1a1a">Ar36</text>
<path d="M414.1 128.95h-3.2M617.8 128.95h3.2M414.1 123.58h-3.2M617.8 123.58h3.2M414.1 118.21h-3.2M617.8 118.21h3.2M414.1 112.84h-3.2M617.8 112.84h3.2M414.1 107.46h-5.2M617.8 107.46h5.2M414.1 102.09h-3.2M617.8 102.09h3.2M414.1 96.72h-3.2M617.8 96.72h3.2M414.1 91.35h-3.2M617.8 91.35h3.2M414.1 85.98h-3.2M617.8 85.98h3.2M414.1 80.61h-5.2M617.8 80.61h5.2M414.1 75.24h-3.2M617.8 75.24h3.2M414.1 69.87h-3.2M617.8 69.87h3.2M414.1 64.5h-3.2M617.8 64.5h3.2M414.1 59.13h-3.2M617.8 59.13h3.2M414.1 53.75h-5.2M617.8 53.75h5.2M414.1 48.38h-3.2M617.8 48.38h3.2M414.1 43.01h-3.2M617.8 43.01h3.2M414.1 37.64h-3.2M617.8 37.64h3.2M414.1 32.27h-3.2M617.8 32.27h3.2M414.1 237.44h-3.2M617.8 237.44h3.2M414.1 233.15h-3.2M617.8 233.15h3.2M414.1 228.85h-3.2M617.8 228.85h3.2M414.1 224.55h-3.2M617.8 224.55h3.2M414.1 220.26h-5.2M617.8 220.26h5.2M414.1 215.96h-3.2M617.8 215.96h3.2M414.1 211.66h-3.2M617.8 211.66h3.2M414.1 207.37h-3.2M617.8 207.37h3.2M414.1 203.07h-3.2M617.8 203.07h3.2M414.1 198.77h-5.2M617.8 198.77h5.2M414.1 194.48h-3.2M617.8 194.48h3.2M414.1 190.18h-3.2M617.8 190.18h3.2M414.1 185.88h-3.2M617.8 185.88h3.2M414.1 181.58h-3.2M617.8 181.58h3.2M414.1 177.29h-5.2M617.8 177.29h5.2M414.1 172.99h-3.2M617.8 172.99h3.2M414.1 168.69h-3.2M617.8 168.69h3.2M414.1 164.4h-3.2M617.8 164.4h3.2M414.1 160.1h-3.2M617.8 160.1h3.2M414.1 155.8h-5.2M617.8 155.8h5.2M414.1 151.51h-3.2M617.8 151.51h3.2M414.1 147.21h-3.2M617.8 147.21h3.2M414.1 142.91h-3.2M617.8 142.91h3.2M414.1 138.62h-3.2M617.8 138.62h3.2M414.1 344.86h-3.2M617.8 344.86h3.2M414.1 340.57h-3.2M617.8 340.57h3.2M414.1 336.27h-3.2M617.8 336.27h3.2M414.1 331.97h-3.2M617.8 331.97h3.2M414.1 327.68h-5.2M617.8 327.68h5.2M414.1 323.38h-3.2M617.8 323.38h3.2M414.1 319.08h-3.2M617.8 319.08h3.2M414.1 314.79h-3.2M617.8 314.79h3.2M414.1 310.49h-3.2M617.8 310.49h3.2M414.1 306.19h-5.2M617.8 306.19h5.2M414.1 301.9h-3.2M617.8 301.9h3.2M414.1 297.6h-3.2M617.8 297.6h3.2M414.1 293.3h-3.2M617.8 293.3h3.2M414.1 289h-3.2M617.8 289h3.2M414.1 284.71h-5.2M617.8 284.71h5.2M414.1 280.41h-3.2M617.8 280.41h3.2M414.1 276.11h-3.2M617.8 276.11h3.2M414.1 271.82h-3.2M617.8 271.82h3.2M414.1 267.52h-3.2M617.8 267.52h3.2M414.1 263.22h-5.2M617.8 263.22h5.2M414.1 258.93h-3.2M617.8 258.93h3.2M414.1 254.63h-3.2M617.8 254.63h3.2M414.1 250.33h-3.2M617.8 250.33h3.2M414.1 246.04h-3.2M617.8 246.04h3.2M414.1 451.21h-3.2M617.8 451.21h3.2M414.1 445.84h-3.2M617.8 445.84h3.2M414.1 440.47h-3.2M617.8 440.47h3.2M414.1 435.1h-3.2M617.8 435.1h3.2M414.1 429.72h-5.2M617.8 429.72h5.2M414.1 424.35h-3.2M617.8 424.35h3.2M414.1 418.98h-3.2M617.8 418.98h3.2M414.1 413.61h-3.2M617.8 413.61h3.2M414.1 408.24h-3.2M617.8 408.24h3.2M414.1 402.87h-5.2M617.8 402.87h5.2M414.1 397.5h-3.2M617.8 397.5h3.2M414.1 392.13h-3.2M617.8 392.13h3.2M414.1 386.76h-3.2M617.8 386.76h3.2M414.1 381.39h-3.2M617.8 381.39h3.2M414.1 376.01h-5.2M617.8 376.01h5.2M414.1 370.64h-3.2M617.8 370.64h3.2M414.1 365.27h-3.2M617.8 365.27h3.2M414.1 359.9h-3.2M617.8 359.9h3.2M414.1 354.53h-3.2M617.8 354.53h3.2M414.1 558.63h-3.2M617.8 558.63h3.2M414.1 553.26h-3.2M617.8 553.26h3.2M414.1 547.89h-3.2M617.8 547.89h3.2M414.1 542.52h-3.2M617.8 542.52h3.2M414.1 537.14h-5.2M617.8 537.14h5.2M414.1 531.77h-3.2M617.8 531.77h3.2M414.1 526.4h-3.2M617.8 526.4h3.2M414.1 521.03h-3.2M617.8 521.03h3.2M414.1 515.66h-3.2M617.8 515.66h3.2M414.1 510.29h-5.2M617.8 510.29h5.2M414.1 504.92h-3.2M617.8 504.92h3.2M414.1 499.55h-3.2M617.8 499.55h3.2M414.1 494.18h-3.2M617.8 494.18h3.2M414.1 488.81h-3.2M617.8 488.81h3.2M414.1 483.44h-5.2M617.8 483.44h5.2M414.1 478.06h-3.2M617.8 478.06h3.2M414.1 472.69h-3.2M617.8 472.69h3.2M414.1 467.32h-3.2M617.8 467.32h3.2M414.1 461.95h-3.2M617.8 461.95h3.2" stroke="#1a1a1a" stroke-width="1.2" fill="none"/>
<text x="413.9" y="579.3" font-size="12" letter-spacing="-0.4" text-anchor="middle" fill="#1a1a1a">0</text>
<text x="487.57" y="579.3" font-size="12" letter-spacing="-0.4" text-anchor="middle" fill="#1a1a1a">200</text>
<text x="561.24" y="579.3" font-size="12" letter-spacing="-0.4" text-anchor="middle" fill="#1a1a1a">400</text>
<text x="515.95" y="609.3" font-size="15" text-anchor="middle" fill="#1a1a1a">Time</text>
</svg>
</body></html>
